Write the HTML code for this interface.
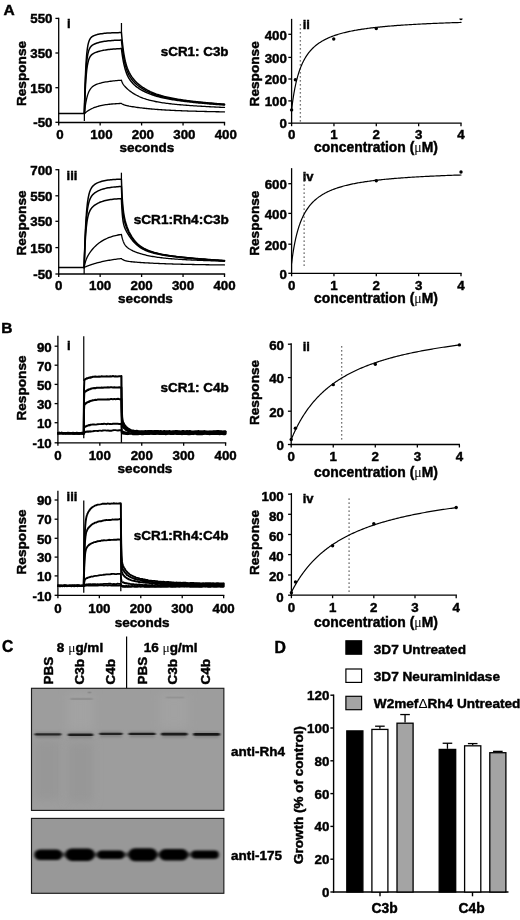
<!DOCTYPE html>
<html lang="en"><head><meta charset="utf-8"><title>Figure</title>
<style>
html,body{margin:0;padding:0;background:#fff;}
body{width:520px;height:920px;overflow:hidden;}
svg{display:block;}
text{font-family:"Liberation Sans",Arial,Helvetica,sans-serif;fill:#000;}
.b{font-weight:bold;stroke:#000;stroke-width:0.45px;}
.dl{font-weight:normal;stroke:none;}
.mu{font-family:"Liberation Serif","DejaVu Serif",serif;font-weight:normal;stroke:none;}
</style></head><body>
<svg width="520" height="920" viewBox="0 0 520 920">
<defs><filter id="bl1" x="-20%" y="-300%" width="140%" height="700%"><feGaussianBlur stdDeviation="1.0 0.75"/></filter><filter id="bl2" x="-20%" y="-200%" width="140%" height="500%"><feGaussianBlur stdDeviation="1.4 1.3"/></filter><filter id="bl3" x="-50%" y="-50%" width="200%" height="200%"><feGaussianBlur stdDeviation="5"/></filter><clipPath id="cb1"><rect x="31.5" y="688.3" width="192.35" height="122.1"/></clipPath><clipPath id="cb2"><rect x="31.5" y="818.4" width="192.35" height="74.9"/></clipPath></defs>
<rect x="0" y="0" width="520" height="920" fill="#fff"/>
<text x="3.6" y="15.4" font-size="15.5" text-anchor="start" class="b">A</text>
<text x="1.3" y="332.9" font-size="15.5" text-anchor="start" class="b">B</text>
<text x="1.9" y="651.5" font-size="15.6" text-anchor="start" class="b">C</text>
<text x="274.5" y="652.6" font-size="15.8" text-anchor="start" class="b">D</text>
<line x1="58.7" y1="17.75" x2="58.7" y2="123.15" stroke="#000" stroke-width="1.3"/>
<line x1="58.05" y1="122.5" x2="225.15" y2="122.5" stroke="#000" stroke-width="1.3"/>
<line x1="55.4" y1="18.4" x2="58.7" y2="18.4" stroke="#000" stroke-width="1.3"/>
<text x="52.5" y="23.45" font-size="13.3" text-anchor="end" class="b">550</text>
<line x1="55.4" y1="53" x2="58.7" y2="53" stroke="#000" stroke-width="1.3"/>
<text x="52.5" y="58.05" font-size="13.3" text-anchor="end" class="b">350</text>
<line x1="55.4" y1="87.7" x2="58.7" y2="87.7" stroke="#000" stroke-width="1.3"/>
<text x="52.5" y="92.75" font-size="13.3" text-anchor="end" class="b">150</text>
<line x1="55.4" y1="122.3" x2="58.7" y2="122.3" stroke="#000" stroke-width="1.3"/>
<text x="52.5" y="127.35" font-size="13.3" text-anchor="end" class="b">-50</text>
<line x1="58.7" y1="122.5" x2="58.7" y2="125.5" stroke="#000" stroke-width="1.3"/>
<text x="60" y="139" font-size="13.3" text-anchor="middle" class="b">0</text>
<line x1="100.15" y1="122.5" x2="100.15" y2="125.5" stroke="#000" stroke-width="1.3"/>
<text x="101.45" y="139" font-size="13.3" text-anchor="middle" class="b">100</text>
<line x1="141.6" y1="122.5" x2="141.6" y2="125.5" stroke="#000" stroke-width="1.3"/>
<text x="142.9" y="139" font-size="13.3" text-anchor="middle" class="b">200</text>
<line x1="183.05" y1="122.5" x2="183.05" y2="125.5" stroke="#000" stroke-width="1.3"/>
<text x="184.35" y="139" font-size="13.3" text-anchor="middle" class="b">300</text>
<line x1="224.5" y1="122.5" x2="224.5" y2="125.5" stroke="#000" stroke-width="1.3"/>
<text x="225.8" y="139" font-size="13.3" text-anchor="middle" class="b">400</text>
<text x="25.6" y="73.5" font-size="13.65" text-anchor="middle" class="b" transform="rotate(-90 25.6 73.5)">Response</text>
<text x="146.8" y="152" font-size="13.5" text-anchor="middle" class="b">seconds</text>
<text x="66.9" y="28" font-size="13" text-anchor="start" class="b">i</text>
<text x="160.8" y="55.8" font-size="13.4" text-anchor="start" class="b">sCR1: C3b</text>
<line x1="84.36" y1="113.61" x2="84.36" y2="121" stroke="#000" stroke-width="1.25"/>
<line x1="121.46" y1="32.59" x2="121.46" y2="23" stroke="#000" stroke-width="1.25"/>
<path d="M58.7 113.61 L84.36 113.61 L84.36 113.61 L84.61 102.28 L84.85 92.67 L85.1 84.51 L85.35 77.57 L85.6 71.68 L85.85 66.67 L86.1 62.4 L86.35 58.76 L86.6 55.65 L86.84 53 L87.09 50.73 L87.34 48.78 L87.59 47.11 L87.84 45.67 L88.09 44.43 L88.34 43.36 L88.59 42.43 L88.83 41.63 L89.08 40.92 L89.33 40.3 L89.58 39.76 L89.83 39.29 L90.08 38.86 L90.33 38.49 L90.58 38.15 L90.82 37.85 L91.07 37.58 L91.32 37.33 L91.57 37.11 L91.82 36.9 L92.07 36.71 L93.31 35.96 L94.55 35.4 L95.8 34.96 L97.04 34.6 L98.28 34.3 L99.53 34.05 L100.77 33.83 L102.02 33.64 L103.26 33.48 L104.5 33.34 L105.75 33.22 L106.99 33.12 L108.23 33.03 L109.48 32.95 L110.72 32.89 L111.96 32.83 L113.21 32.78 L114.45 32.74 L115.69 32.7 L116.94 32.67 L118.18 32.65 L119.42 32.62 L120.67 32.6 L121.46 32.59 L121.46 32.59 L121.7 35.55 L121.95 38.3 L122.2 40.84 L122.45 43.2 L122.7 45.4 L122.95 47.44 L123.2 49.34 L123.44 51.11 L123.69 52.76 L123.94 54.31 L124.19 55.75 L124.44 57.1 L124.69 58.37 L124.94 59.56 L125.19 60.68 L125.43 61.74 L125.68 62.73 L125.93 63.67 L126.18 64.56 L126.43 65.4 L126.68 66.2 L126.93 66.95 L127.18 67.67 L127.42 68.36 L127.67 69.01 L127.92 69.64 L128.17 70.24 L128.42 70.81 L128.67 71.36 L128.92 71.88 L129.16 72.39 L130.41 74.67 L131.65 76.61 L132.9 78.31 L134.14 79.82 L135.38 81.18 L136.63 82.43 L137.87 83.58 L139.11 84.64 L140.36 85.63 L141.6 86.55 L142.84 87.42 L144.09 88.22 L145.33 88.98 L146.57 89.7 L147.82 90.37 L149.06 91 L150.3 91.6 L151.55 92.16 L152.79 92.69 L154.03 93.19 L155.28 93.67 L156.52 94.12 L157.77 94.54 L159.01 94.95 L160.25 95.33 L161.5 95.7 L162.74 96.05 L163.98 96.38 L165.23 96.7 L166.47 97 L167.71 97.29 L168.96 97.56 L170.2 97.83 L171.44 98.08 L172.69 98.33 L173.93 98.56 L175.17 98.79 L176.42 99 L177.66 99.21 L178.9 99.41 L180.15 99.61 L181.39 99.8 L182.64 99.98 L183.88 100.16 L185.12 100.33 L186.37 100.5 L187.61 100.66 L188.85 100.82 L190.1 100.97 L191.34 101.12 L192.58 101.27 L193.83 101.41 L195.07 101.55 L196.31 101.68 L197.56 101.81 L198.8 101.94 L200.04 102.07 L201.29 102.2 L202.53 102.32 L203.77 102.44 L205.02 102.56 L206.26 102.67 L207.51 102.79 L208.75 102.9 L209.99 103.01 L211.24 103.11 L212.48 103.22 L213.72 103.33 L214.97 103.43 L216.21 103.53 L217.45 103.63 L218.7 103.73 L219.94 103.83 L221.18 103.92 L222.43 104.02 L223.67 104.11 L224.5 104.17" fill="none" stroke="#000" stroke-width="1.5" stroke-linejoin="round" stroke-linecap="round"/>
<path d="M84.36 113.61 L84.36 113.61 L84.61 103.96 L84.85 95.72 L85.1 88.68 L85.35 82.66 L85.6 77.51 L85.85 73.1 L86.1 69.32 L86.35 66.08 L86.6 63.29 L86.84 60.9 L87.09 58.83 L87.34 57.05 L87.59 55.51 L87.84 54.17 L88.09 53.01 L88.34 52 L88.59 51.12 L88.83 50.35 L89.08 49.67 L89.33 49.07 L89.58 48.54 L89.83 48.07 L90.08 47.65 L90.33 47.27 L90.58 46.93 L90.82 46.63 L91.07 46.35 L91.32 46.09 L91.57 45.85 L91.82 45.64 L92.07 45.44 L93.31 44.61 L94.55 43.98 L95.8 43.47 L97.04 43.03 L98.28 42.66 L99.53 42.33 L100.77 42.03 L102.02 41.78 L103.26 41.55 L104.5 41.35 L105.75 41.17 L106.99 41.01 L108.23 40.87 L109.48 40.74 L110.72 40.63 L111.96 40.53 L113.21 40.44 L114.45 40.37 L115.69 40.3 L116.94 40.24 L118.18 40.18 L119.42 40.14 L120.67 40.09 L121.46 40.07 L121.46 40.07 L121.7 42.6 L121.95 44.96 L122.2 47.15 L122.45 49.2 L122.7 51.12 L122.95 52.9 L123.2 54.57 L123.44 56.14 L123.69 57.6 L123.94 58.97 L124.19 60.26 L124.44 61.47 L124.69 62.6 L124.94 63.67 L125.19 64.68 L125.43 65.63 L125.68 66.53 L125.93 67.38 L126.18 68.19 L126.43 68.95 L126.68 69.67 L126.93 70.36 L127.18 71.02 L127.42 71.65 L127.67 72.24 L127.92 72.81 L128.17 73.36 L128.42 73.88 L128.67 74.38 L128.92 74.87 L129.16 75.33 L130.41 77.41 L131.65 79.19 L132.9 80.73 L134.14 82.11 L135.38 83.35 L136.63 84.48 L137.87 85.52 L139.11 86.48 L140.36 87.37 L141.6 88.21 L142.84 88.99 L144.09 89.72 L145.33 90.41 L146.57 91.06 L147.82 91.66 L149.06 92.24 L150.3 92.78 L151.55 93.29 L152.79 93.77 L154.03 94.23 L155.28 94.66 L156.52 95.07 L157.77 95.46 L159.01 95.83 L160.25 96.18 L161.5 96.52 L162.74 96.84 L163.98 97.14 L165.23 97.44 L166.47 97.71 L167.71 97.98 L168.96 98.24 L170.2 98.48 L171.44 98.72 L172.69 98.95 L173.93 99.16 L175.17 99.38 L176.42 99.58 L177.66 99.78 L178.9 99.97 L180.15 100.15 L181.39 100.33 L182.64 100.5 L183.88 100.67 L185.12 100.83 L186.37 100.99 L187.61 101.14 L188.85 101.29 L190.1 101.44 L191.34 101.58 L192.58 101.72 L193.83 101.86 L195.07 102 L196.31 102.13 L197.56 102.25 L198.8 102.38 L200.04 102.5 L201.29 102.62 L202.53 102.74 L203.77 102.86 L205.02 102.97 L206.26 103.09 L207.51 103.2 L208.75 103.31 L209.99 103.41 L211.24 103.52 L212.48 103.62 L213.72 103.73 L214.97 103.83 L216.21 103.93 L217.45 104.03 L218.7 104.12 L219.94 104.22 L221.18 104.31 L222.43 104.41 L223.67 104.5 L224.5 104.56" fill="none" stroke="#000" stroke-width="1.5" stroke-linejoin="round" stroke-linecap="round"/>
<path d="M84.36 113.61 L84.36 113.61 L84.61 105.8 L84.85 99.06 L85.1 93.23 L85.35 88.18 L85.6 83.81 L85.85 80.02 L86.1 76.74 L86.35 73.89 L86.6 71.41 L86.84 69.26 L87.09 67.38 L87.34 65.74 L87.59 64.31 L87.84 63.06 L88.09 61.96 L88.34 60.99 L88.59 60.14 L88.83 59.39 L89.08 58.72 L89.33 58.13 L89.58 57.6 L89.83 57.12 L90.08 56.7 L90.33 56.31 L90.58 55.97 L90.82 55.65 L91.07 55.37 L91.32 55.1 L91.57 54.86 L91.82 54.64 L92.07 54.43 L93.31 53.58 L94.55 52.93 L95.8 52.4 L97.04 51.94 L98.28 51.55 L99.53 51.2 L100.77 50.89 L102.02 50.61 L103.26 50.36 L104.5 50.13 L105.75 49.93 L106.99 49.75 L108.23 49.59 L109.48 49.44 L110.72 49.3 L111.96 49.18 L113.21 49.08 L114.45 48.98 L115.69 48.89 L116.94 48.81 L118.18 48.74 L119.42 48.68 L120.67 48.62 L121.46 48.59 L121.46 48.59 L121.7 50.63 L121.95 52.55 L122.2 54.35 L122.45 56.04 L122.7 57.63 L122.95 59.13 L123.2 60.54 L123.44 61.86 L123.69 63.11 L123.94 64.28 L124.19 65.39 L124.44 66.43 L124.69 67.42 L124.94 68.35 L125.19 69.23 L125.43 70.07 L125.68 70.86 L125.93 71.61 L126.18 72.32 L126.43 72.99 L126.68 73.64 L126.93 74.25 L127.18 74.83 L127.42 75.39 L127.67 75.92 L127.92 76.43 L128.17 76.92 L128.42 77.38 L128.67 77.83 L128.92 78.26 L129.16 78.68 L130.41 80.54 L131.65 82.12 L132.9 83.5 L134.14 84.71 L135.38 85.81 L136.63 86.81 L137.87 87.73 L139.11 88.57 L140.36 89.36 L141.6 90.1 L142.84 90.79 L144.09 91.43 L145.33 92.04 L146.57 92.6 L147.82 93.14 L149.06 93.65 L150.3 94.13 L151.55 94.58 L152.79 95 L154.03 95.41 L155.28 95.79 L156.52 96.16 L157.77 96.51 L159.01 96.84 L160.25 97.15 L161.5 97.45 L162.74 97.74 L163.98 98.02 L165.23 98.28 L166.47 98.53 L167.71 98.77 L168.96 99.01 L170.2 99.23 L171.44 99.45 L172.69 99.65 L173.93 99.85 L175.17 100.05 L176.42 100.24 L177.66 100.42 L178.9 100.59 L180.15 100.76 L181.39 100.93 L182.64 101.09 L183.88 101.25 L185.12 101.4 L186.37 101.55 L187.61 101.7 L188.85 101.84 L190.1 101.98 L191.34 102.12 L192.58 102.25 L193.83 102.38 L195.07 102.51 L196.31 102.63 L197.56 102.76 L198.8 102.88 L200.04 103 L201.29 103.11 L202.53 103.23 L203.77 103.34 L205.02 103.45 L206.26 103.56 L207.51 103.67 L208.75 103.77 L209.99 103.88 L211.24 103.98 L212.48 104.08 L213.72 104.18 L214.97 104.28 L216.21 104.38 L217.45 104.48 L218.7 104.57 L219.94 104.67 L221.18 104.76 L222.43 104.85 L223.67 104.94 L224.5 105" fill="none" stroke="#000" stroke-width="1.5" stroke-linejoin="round" stroke-linecap="round"/>
<path d="M84.36 113.61 L84.36 113.61 L84.61 111.38 L84.85 109.33 L85.1 107.44 L85.35 105.71 L85.6 104.11 L85.85 102.65 L86.1 101.29 L86.35 100.05 L86.6 98.9 L86.84 97.84 L87.09 96.86 L87.34 95.96 L87.59 95.13 L87.84 94.36 L88.09 93.64 L88.34 92.98 L88.59 92.37 L88.83 91.8 L89.08 91.27 L89.33 90.78 L89.58 90.32 L89.83 89.89 L90.08 89.5 L90.33 89.13 L90.58 88.78 L90.82 88.45 L91.07 88.15 L91.32 87.86 L91.57 87.6 L91.82 87.34 L92.07 87.1 L93.31 86.1 L94.55 85.32 L95.8 84.7 L97.04 84.18 L98.28 83.75 L99.53 83.37 L100.77 83.03 L102.02 82.73 L103.26 82.46 L104.5 82.21 L105.75 81.98 L106.99 81.77 L108.23 81.58 L109.48 81.4 L110.72 81.24 L111.96 81.08 L113.21 80.94 L114.45 80.81 L115.69 80.69 L116.94 80.57 L118.18 80.47 L119.42 80.37 L120.67 80.28 L121.46 80.23 L121.46 80.23 L121.7 81.04 L121.95 81.74 L122.2 82.36 L122.45 82.9 L122.7 83.39 L122.95 83.83 L123.2 84.23 L123.44 84.61 L123.69 84.96 L123.94 85.29 L124.19 85.61 L124.44 85.91 L124.69 86.2 L124.94 86.48 L125.19 86.76 L125.43 87.02 L125.68 87.28 L125.93 87.53 L126.18 87.78 L126.43 88.02 L126.68 88.26 L126.93 88.49 L127.18 88.72 L127.42 88.94 L127.67 89.16 L127.92 89.38 L128.17 89.6 L128.42 89.81 L128.67 90.01 L128.92 90.22 L129.16 90.42 L130.41 91.38 L131.65 92.28 L132.9 93.11 L134.14 93.89 L135.38 94.61 L136.63 95.29 L137.87 95.91 L139.11 96.5 L140.36 97.05 L141.6 97.56 L142.84 98.04 L144.09 98.49 L145.33 98.91 L146.57 99.31 L147.82 99.68 L149.06 100.03 L150.3 100.36 L151.55 100.67 L152.79 100.96 L154.03 101.23 L155.28 101.49 L156.52 101.74 L157.77 101.97 L159.01 102.19 L160.25 102.4 L161.5 102.6 L162.74 102.79 L163.98 102.98 L165.23 103.15 L166.47 103.32 L167.71 103.47 L168.96 103.63 L170.2 103.77 L171.44 103.91 L172.69 104.05 L173.93 104.18 L175.17 104.3 L176.42 104.42 L177.66 104.54 L178.9 104.65 L180.15 104.76 L181.39 104.87 L182.64 104.97 L183.88 105.07 L185.12 105.17 L186.37 105.27 L187.61 105.36 L188.85 105.45 L190.1 105.54 L191.34 105.63 L192.58 105.71 L193.83 105.79 L195.07 105.88 L196.31 105.96 L197.56 106.03 L198.8 106.11 L200.04 106.19 L201.29 106.26 L202.53 106.33 L203.77 106.4 L205.02 106.47 L206.26 106.54 L207.51 106.61 L208.75 106.68 L209.99 106.74 L211.24 106.81 L212.48 106.87 L213.72 106.94 L214.97 107 L216.21 107.06 L217.45 107.12 L218.7 107.18 L219.94 107.24 L221.18 107.3 L222.43 107.36 L223.67 107.42 L224.5 107.46" fill="none" stroke="#000" stroke-width="1.3" stroke-linejoin="round" stroke-linecap="round"/>
<path d="M84.36 113.61 L84.36 113.61 L84.61 113.39 L84.85 113.17 L85.1 112.96 L85.35 112.75 L85.6 112.55 L85.85 112.35 L86.1 112.15 L86.35 111.96 L86.6 111.78 L86.84 111.59 L87.09 111.41 L87.34 111.24 L87.59 111.07 L87.84 110.9 L88.09 110.73 L88.34 110.57 L88.59 110.41 L88.83 110.26 L89.08 110.11 L89.33 109.96 L89.58 109.82 L89.83 109.67 L90.08 109.53 L90.33 109.4 L90.58 109.26 L90.82 109.13 L91.07 109.01 L91.32 108.88 L91.57 108.76 L91.82 108.64 L92.07 108.52 L93.31 107.97 L94.55 107.47 L95.8 107.02 L97.04 106.62 L98.28 106.25 L99.53 105.93 L100.77 105.63 L102.02 105.37 L103.26 105.13 L104.5 104.91 L105.75 104.72 L106.99 104.55 L108.23 104.39 L109.48 104.25 L110.72 104.12 L111.96 104.01 L113.21 103.9 L114.45 103.81 L115.69 103.73 L116.94 103.65 L118.18 103.58 L119.42 103.52 L120.67 103.47 L121.46 103.44 L121.46 103.44 L121.7 103.62 L121.95 103.79 L122.2 103.95 L122.45 104.09 L122.7 104.22 L122.95 104.35 L123.2 104.46 L123.44 104.57 L123.69 104.67 L123.94 104.77 L124.19 104.86 L124.44 104.95 L124.69 105.03 L124.94 105.11 L125.19 105.18 L125.43 105.26 L125.68 105.32 L125.93 105.39 L126.18 105.45 L126.43 105.52 L126.68 105.58 L126.93 105.64 L127.18 105.69 L127.42 105.75 L127.67 105.8 L127.92 105.86 L128.17 105.91 L128.42 105.96 L128.67 106.01 L128.92 106.06 L129.16 106.11 L130.41 106.34 L131.65 106.55 L132.9 106.76 L134.14 106.96 L135.38 107.14 L136.63 107.32 L137.87 107.49 L139.11 107.66 L140.36 107.81 L141.6 107.97 L142.84 108.11 L144.09 108.25 L145.33 108.39 L146.57 108.52 L147.82 108.64 L149.06 108.76 L150.3 108.88 L151.55 108.99 L152.79 109.09 L154.03 109.2 L155.28 109.3 L156.52 109.39 L157.77 109.49 L159.01 109.58 L160.25 109.66 L161.5 109.74 L162.74 109.82 L163.98 109.9 L165.23 109.98 L166.47 110.05 L167.71 110.12 L168.96 110.19 L170.2 110.25 L171.44 110.32 L172.69 110.38 L173.93 110.44 L175.17 110.49 L176.42 110.55 L177.66 110.6 L178.9 110.66 L180.15 110.71 L181.39 110.76 L182.64 110.81 L183.88 110.85 L185.12 110.9 L186.37 110.94 L187.61 110.99 L188.85 111.03 L190.1 111.07 L191.34 111.11 L192.58 111.15 L193.83 111.18 L195.07 111.22 L196.31 111.26 L197.56 111.29 L198.8 111.32 L200.04 111.36 L201.29 111.39 L202.53 111.42 L203.77 111.45 L205.02 111.48 L206.26 111.51 L207.51 111.54 L208.75 111.57 L209.99 111.6 L211.24 111.62 L212.48 111.65 L213.72 111.68 L214.97 111.7 L216.21 111.73 L217.45 111.75 L218.7 111.77 L219.94 111.8 L221.18 111.82 L222.43 111.84 L223.67 111.87 L224.5 111.88" fill="none" stroke="#000" stroke-width="1.3" stroke-linejoin="round" stroke-linecap="round"/>
<line x1="58.7" y1="169.05" x2="58.7" y2="274.65" stroke="#000" stroke-width="1.3"/>
<line x1="58.05" y1="274" x2="225.15" y2="274" stroke="#000" stroke-width="1.3"/>
<line x1="55.4" y1="169.7" x2="58.7" y2="169.7" stroke="#000" stroke-width="1.3"/>
<text x="52.5" y="174.85" font-size="13.3" text-anchor="end" class="b">700</text>
<line x1="55.4" y1="195.8" x2="58.7" y2="195.8" stroke="#000" stroke-width="1.3"/>
<text x="52.5" y="200.95" font-size="13.3" text-anchor="end" class="b">550</text>
<line x1="55.4" y1="221.3" x2="58.7" y2="221.3" stroke="#000" stroke-width="1.3"/>
<text x="52.5" y="226.45" font-size="13.3" text-anchor="end" class="b">350</text>
<line x1="55.4" y1="247.6" x2="58.7" y2="247.6" stroke="#000" stroke-width="1.3"/>
<text x="52.5" y="252.75" font-size="13.3" text-anchor="end" class="b">150</text>
<line x1="55.4" y1="274" x2="58.7" y2="274" stroke="#000" stroke-width="1.3"/>
<text x="52.5" y="279.15" font-size="13.3" text-anchor="end" class="b">-50</text>
<line x1="58.7" y1="274" x2="58.7" y2="277" stroke="#000" stroke-width="1.3"/>
<text x="58.7" y="290" font-size="13.3" text-anchor="middle" class="b">0</text>
<line x1="100.15" y1="274" x2="100.15" y2="277" stroke="#000" stroke-width="1.3"/>
<text x="100.15" y="290" font-size="13.3" text-anchor="middle" class="b">100</text>
<line x1="141.6" y1="274" x2="141.6" y2="277" stroke="#000" stroke-width="1.3"/>
<text x="141.6" y="290" font-size="13.3" text-anchor="middle" class="b">200</text>
<line x1="183.05" y1="274" x2="183.05" y2="277" stroke="#000" stroke-width="1.3"/>
<text x="183.05" y="290" font-size="13.3" text-anchor="middle" class="b">300</text>
<line x1="224.5" y1="274" x2="224.5" y2="277" stroke="#000" stroke-width="1.3"/>
<text x="224.5" y="290" font-size="13.3" text-anchor="middle" class="b">400</text>
<text x="25.6" y="223" font-size="13.65" text-anchor="middle" class="b" transform="rotate(-90 25.6 223)">Response</text>
<text x="145.5" y="303" font-size="13.5" text-anchor="middle" class="b">seconds</text>
<text x="66.6" y="179.5" font-size="13" text-anchor="start" class="b">iii</text>
<text x="133.7" y="224.3" font-size="13.6" text-anchor="start" class="b">sCR1:Rh4:C3b</text>
<line x1="84.15" y1="267.62" x2="84.15" y2="274" stroke="#000" stroke-width="1.25"/>
<line x1="121.41" y1="179.13" x2="121.41" y2="172.7" stroke="#000" stroke-width="1.25"/>
<path d="M58.7 267.62 L84.15 267.62 L84.15 267.62 L84.4 258.28 L84.65 250.05 L84.9 242.79 L85.15 236.39 L85.39 230.74 L85.64 225.76 L85.89 221.34 L86.14 217.44 L86.39 213.99 L86.64 210.92 L86.89 208.2 L87.13 205.79 L87.38 203.64 L87.63 201.72 L87.88 200.01 L88.13 198.49 L88.38 197.12 L88.63 195.89 L88.88 194.79 L89.12 193.79 L89.37 192.9 L89.62 192.09 L89.87 191.35 L90.12 190.68 L90.37 190.07 L90.62 189.52 L90.87 189.01 L91.11 188.54 L91.36 188.11 L91.61 187.71 L91.86 187.34 L93.1 185.83 L94.35 184.73 L95.59 183.87 L96.83 183.17 L98.08 182.59 L99.32 182.1 L100.56 181.68 L101.81 181.32 L103.05 181 L104.29 180.73 L105.54 180.49 L106.78 180.28 L108.03 180.09 L109.27 179.93 L110.51 179.79 L111.76 179.67 L113 179.57 L114.24 179.47 L115.49 179.39 L116.73 179.32 L117.97 179.26 L119.22 179.21 L120.46 179.16 L121.41 179.13 L121.41 179.13 L121.66 186.07 L121.91 191.76 L122.16 196.46 L122.41 200.38 L122.66 203.67 L122.91 206.47 L123.15 208.87 L123.4 210.96 L123.65 212.78 L123.9 214.4 L124.15 215.85 L124.4 217.17 L124.65 218.37 L124.9 219.48 L125.14 220.51 L125.39 221.47 L125.64 222.38 L125.89 223.24 L126.14 224.06 L126.39 224.84 L126.64 225.58 L126.89 226.3 L127.13 226.99 L127.38 227.66 L127.63 228.3 L127.88 228.92 L128.13 229.53 L128.38 230.11 L128.63 230.68 L128.87 231.23 L129.12 231.76 L130.37 234.23 L131.61 236.39 L132.85 238.29 L134.1 239.96 L135.34 241.45 L136.58 242.78 L137.83 243.97 L139.07 245.04 L140.32 246 L141.56 246.87 L142.8 247.65 L144.05 248.37 L145.29 249.02 L146.53 249.62 L147.78 250.17 L149.02 250.68 L150.26 251.14 L151.51 251.58 L152.75 251.98 L153.99 252.35 L155.24 252.7 L156.48 253.03 L157.72 253.34 L158.97 253.63 L160.21 253.9 L161.45 254.16 L162.7 254.4 L163.94 254.63 L165.19 254.86 L166.43 255.07 L167.67 255.27 L168.92 255.46 L170.16 255.65 L171.4 255.83 L172.65 256 L173.89 256.16 L175.13 256.32 L176.38 256.48 L177.62 256.63 L178.86 256.78 L180.11 256.92 L181.35 257.06 L182.59 257.19 L183.84 257.32 L185.08 257.45 L186.32 257.57 L187.57 257.7 L188.81 257.82 L190.06 257.93 L191.3 258.05 L192.54 258.16 L193.79 258.27 L195.03 258.38 L196.27 258.49 L197.52 258.6 L198.76 258.7 L200 258.8 L201.25 258.9 L202.49 259 L203.73 259.1 L204.98 259.19 L206.22 259.29 L207.46 259.38 L208.71 259.47 L209.95 259.57 L211.19 259.66 L212.44 259.74 L213.68 259.83 L214.93 259.92 L216.17 260 L217.41 260.09 L218.66 260.17 L219.9 260.25 L221.14 260.33 L222.39 260.41 L223.63 260.49 L224.5 260.55" fill="none" stroke="#000" stroke-width="1.5" stroke-linejoin="round" stroke-linecap="round"/>
<path d="M84.15 267.62 L84.15 267.62 L84.4 259.08 L84.65 251.58 L84.9 245.01 L85.15 239.24 L85.39 234.16 L85.64 229.71 L85.89 225.78 L86.14 222.32 L86.39 219.26 L86.64 216.56 L86.89 214.17 L87.13 212.06 L87.38 210.18 L87.63 208.5 L87.88 207.01 L88.13 205.68 L88.38 204.48 L88.63 203.41 L88.88 202.45 L89.12 201.57 L89.37 200.79 L89.62 200.07 L89.87 199.42 L90.12 198.82 L90.37 198.28 L90.62 197.78 L90.87 197.31 L91.11 196.88 L91.36 196.49 L91.61 196.12 L91.86 195.77 L93.1 194.33 L94.35 193.21 L95.59 192.31 L96.83 191.55 L98.08 190.9 L99.32 190.33 L100.56 189.83 L101.81 189.39 L103.05 189.01 L104.29 188.66 L105.54 188.36 L106.78 188.09 L108.03 187.85 L109.27 187.64 L110.51 187.45 L111.76 187.28 L113 187.13 L114.24 187 L115.49 186.89 L116.73 186.78 L117.97 186.69 L119.22 186.61 L120.46 186.54 L121.41 186.49 L121.41 186.49 L121.66 192.97 L121.91 198.24 L122.16 202.55 L122.41 206.11 L122.66 209.06 L122.91 211.55 L123.15 213.66 L123.4 215.47 L123.65 217.04 L123.9 218.43 L124.15 219.66 L124.4 220.77 L124.65 221.78 L124.9 222.72 L125.14 223.58 L125.39 224.39 L125.64 225.16 L125.89 225.88 L126.14 226.58 L126.39 227.24 L126.64 227.88 L126.89 228.5 L127.13 229.09 L127.38 229.67 L127.63 230.23 L127.88 230.78 L128.13 231.31 L128.38 231.83 L128.63 232.33 L128.87 232.82 L129.12 233.3 L130.37 235.53 L131.61 237.51 L132.85 239.27 L134.1 240.84 L135.34 242.25 L136.58 243.51 L137.83 244.64 L139.07 245.65 L140.32 246.57 L141.56 247.4 L142.8 248.16 L144.05 248.84 L145.29 249.47 L146.53 250.04 L147.78 250.57 L149.02 251.05 L150.26 251.5 L151.51 251.92 L152.75 252.3 L153.99 252.66 L155.24 253 L156.48 253.31 L157.72 253.61 L158.97 253.89 L160.21 254.15 L161.45 254.4 L162.7 254.64 L163.94 254.86 L165.19 255.08 L166.43 255.28 L167.67 255.48 L168.92 255.67 L170.16 255.85 L171.4 256.02 L172.65 256.19 L173.89 256.35 L175.13 256.51 L176.38 256.66 L177.62 256.81 L178.86 256.95 L180.11 257.09 L181.35 257.23 L182.59 257.36 L183.84 257.49 L185.08 257.62 L186.32 257.74 L187.57 257.86 L188.81 257.98 L190.06 258.1 L191.3 258.21 L192.54 258.32 L193.79 258.43 L195.03 258.54 L196.27 258.65 L197.52 258.75 L198.76 258.85 L200 258.96 L201.25 259.06 L202.49 259.15 L203.73 259.25 L204.98 259.35 L206.22 259.44 L207.46 259.53 L208.71 259.63 L209.95 259.72 L211.19 259.81 L212.44 259.89 L213.68 259.98 L214.93 260.07 L216.17 260.15 L217.41 260.24 L218.66 260.32 L219.9 260.4 L221.14 260.48 L222.39 260.56 L223.63 260.64 L224.5 260.7" fill="none" stroke="#000" stroke-width="1.5" stroke-linejoin="round" stroke-linecap="round"/>
<path d="M84.15 267.62 L84.15 267.62 L84.4 260.19 L84.65 253.73 L84.9 248.12 L85.15 243.24 L85.39 238.99 L85.64 235.29 L85.89 232.05 L86.14 229.22 L86.39 226.73 L86.64 224.55 L86.89 222.63 L87.13 220.94 L87.38 219.44 L87.63 218.11 L87.88 216.92 L88.13 215.87 L88.38 214.92 L88.63 214.07 L88.88 213.3 L89.12 212.6 L89.37 211.97 L89.62 211.39 L89.87 210.86 L90.12 210.37 L90.37 209.92 L90.62 209.5 L90.87 209.12 L91.11 208.75 L91.36 208.41 L91.61 208.09 L91.86 207.79 L93.1 206.49 L94.35 205.44 L95.59 204.56 L96.83 203.81 L98.08 203.14 L99.32 202.56 L100.56 202.05 L101.81 201.6 L103.05 201.2 L104.29 200.84 L105.54 200.53 L106.78 200.25 L108.03 200 L109.27 199.78 L110.51 199.58 L111.76 199.41 L113 199.26 L114.24 199.12 L115.49 199 L116.73 198.89 L117.97 198.8 L119.22 198.71 L120.46 198.64 L121.41 198.59 L121.41 198.59 L121.66 204.32 L121.91 208.9 L122.16 212.56 L122.41 215.52 L122.66 217.92 L122.91 219.89 L123.15 221.52 L123.4 222.88 L123.65 224.04 L123.9 225.04 L124.15 225.92 L124.4 226.69 L124.65 227.39 L124.9 228.04 L125.14 228.63 L125.39 229.19 L125.64 229.72 L125.89 230.23 L126.14 230.72 L126.39 231.2 L126.64 231.66 L126.89 232.11 L127.13 232.55 L127.38 232.98 L127.63 233.41 L127.88 233.82 L128.13 234.24 L128.38 234.64 L128.63 235.04 L128.87 235.43 L129.12 235.82 L130.37 237.66 L131.61 239.35 L132.85 240.89 L134.1 242.29 L135.34 243.56 L136.58 244.7 L137.83 245.73 L139.07 246.67 L140.32 247.51 L141.56 248.28 L142.8 248.98 L144.05 249.62 L145.29 250.2 L146.53 250.73 L147.78 251.22 L149.02 251.67 L150.26 252.09 L151.51 252.48 L152.75 252.84 L153.99 253.17 L155.24 253.49 L156.48 253.78 L157.72 254.06 L158.97 254.32 L160.21 254.57 L161.45 254.81 L162.7 255.03 L163.94 255.24 L165.19 255.45 L166.43 255.64 L167.67 255.83 L168.92 256.01 L170.16 256.18 L171.4 256.35 L172.65 256.51 L173.89 256.66 L175.13 256.82 L176.38 256.96 L177.62 257.11 L178.86 257.24 L180.11 257.38 L181.35 257.51 L182.59 257.64 L183.84 257.77 L185.08 257.89 L186.32 258.01 L187.57 258.13 L188.81 258.25 L190.06 258.36 L191.3 258.47 L192.54 258.58 L193.79 258.69 L195.03 258.8 L196.27 258.9 L197.52 259.01 L198.76 259.11 L200 259.21 L201.25 259.31 L202.49 259.41 L203.73 259.5 L204.98 259.6 L206.22 259.69 L207.46 259.78 L208.71 259.87 L209.95 259.96 L211.19 260.05 L212.44 260.14 L213.68 260.23 L214.93 260.31 L216.17 260.4 L217.41 260.48 L218.66 260.57 L219.9 260.65 L221.14 260.73 L222.39 260.81 L223.63 260.89 L224.5 260.94" fill="none" stroke="#000" stroke-width="1.5" stroke-linejoin="round" stroke-linecap="round"/>
<path d="M84.15 267.62 L84.15 267.62 L84.4 266.24 L84.65 265 L84.9 263.9 L85.15 262.9 L85.39 262 L85.64 261.18 L85.89 260.42 L86.14 259.72 L86.39 259.07 L86.64 258.46 L86.89 257.88 L87.13 257.34 L87.38 256.83 L87.63 256.33 L87.88 255.86 L88.13 255.41 L88.38 254.98 L88.63 254.55 L88.88 254.15 L89.12 253.75 L89.37 253.36 L89.62 252.99 L89.87 252.62 L90.12 252.26 L90.37 251.91 L90.62 251.57 L90.87 251.24 L91.11 250.91 L91.36 250.59 L91.61 250.27 L91.86 249.96 L93.1 248.5 L94.35 247.16 L95.59 245.93 L96.83 244.8 L98.08 243.76 L99.32 242.8 L100.56 241.92 L101.81 241.12 L103.05 240.37 L104.29 239.69 L105.54 239.06 L106.78 238.49 L108.03 237.96 L109.27 237.47 L110.51 237.02 L111.76 236.61 L113 236.23 L114.24 235.88 L115.49 235.56 L116.73 235.27 L117.97 235 L119.22 234.75 L120.46 234.52 L121.41 234.36 L121.41 234.36 L121.66 235.64 L121.91 236.79 L122.16 237.84 L122.41 238.78 L122.66 239.64 L122.91 240.42 L123.15 241.13 L123.4 241.78 L123.65 242.37 L123.9 242.91 L124.15 243.41 L124.4 243.87 L124.65 244.3 L124.9 244.69 L125.14 245.06 L125.39 245.4 L125.64 245.72 L125.89 246.02 L126.14 246.3 L126.39 246.57 L126.64 246.82 L126.89 247.06 L127.13 247.28 L127.38 247.5 L127.63 247.7 L127.88 247.9 L128.13 248.09 L128.38 248.27 L128.63 248.45 L128.87 248.62 L129.12 248.78 L130.37 249.53 L131.61 250.2 L132.85 250.8 L134.1 251.35 L135.34 251.87 L136.58 252.35 L137.83 252.8 L139.07 253.22 L140.32 253.61 L141.56 253.99 L142.8 254.34 L144.05 254.67 L145.29 254.98 L146.53 255.27 L147.78 255.55 L149.02 255.81 L150.26 256.06 L151.51 256.29 L152.75 256.51 L153.99 256.72 L155.24 256.92 L156.48 257.11 L157.72 257.29 L158.97 257.45 L160.21 257.62 L161.45 257.77 L162.7 257.91 L163.94 258.05 L165.19 258.18 L166.43 258.31 L167.67 258.43 L168.92 258.54 L170.16 258.65 L171.4 258.76 L172.65 258.86 L173.89 258.95 L175.13 259.04 L176.38 259.13 L177.62 259.22 L178.86 259.3 L180.11 259.38 L181.35 259.45 L182.59 259.53 L183.84 259.6 L185.08 259.67 L186.32 259.73 L187.57 259.8 L188.81 259.86 L190.06 259.92 L191.3 259.98 L192.54 260.04 L193.79 260.09 L195.03 260.15 L196.27 260.2 L197.52 260.25 L198.76 260.3 L200 260.35 L201.25 260.4 L202.49 260.45 L203.73 260.49 L204.98 260.54 L206.22 260.58 L207.46 260.63 L208.71 260.67 L209.95 260.71 L211.19 260.75 L212.44 260.79 L213.68 260.83 L214.93 260.87 L216.17 260.91 L217.41 260.95 L218.66 260.99 L219.9 261.03 L221.14 261.06 L222.39 261.1 L223.63 261.14 L224.5 261.16" fill="none" stroke="#000" stroke-width="1.3" stroke-linejoin="round" stroke-linecap="round"/>
<path d="M84.15 267.36 L84.15 267.36 L84.4 267.26 L84.65 267.15 L84.9 267.04 L85.15 266.94 L85.39 266.84 L85.64 266.74 L85.89 266.64 L86.14 266.54 L86.39 266.44 L86.64 266.34 L86.89 266.24 L87.13 266.14 L87.38 266.05 L87.63 265.95 L87.88 265.86 L88.13 265.77 L88.38 265.67 L88.63 265.58 L88.88 265.49 L89.12 265.4 L89.37 265.31 L89.62 265.22 L89.87 265.14 L90.12 265.05 L90.37 264.96 L90.62 264.88 L90.87 264.79 L91.11 264.71 L91.36 264.63 L91.61 264.55 L91.86 264.46 L93.1 264.07 L94.35 263.69 L95.59 263.33 L96.83 262.98 L98.08 262.65 L99.32 262.33 L100.56 262.03 L101.81 261.74 L103.05 261.47 L104.29 261.2 L105.54 260.95 L106.78 260.71 L108.03 260.48 L109.27 260.26 L110.51 260.05 L111.76 259.84 L113 259.65 L114.24 259.47 L115.49 259.29 L116.73 259.12 L117.97 258.96 L119.22 258.81 L120.46 258.66 L121.41 258.55 L121.41 258.55 L121.66 258.77 L121.91 258.98 L122.16 259.17 L122.41 259.35 L122.66 259.51 L122.91 259.66 L123.15 259.8 L123.4 259.93 L123.65 260.06 L123.9 260.17 L124.15 260.27 L124.4 260.37 L124.65 260.46 L124.9 260.55 L125.14 260.63 L125.39 260.71 L125.64 260.78 L125.89 260.85 L126.14 260.91 L126.39 260.97 L126.64 261.03 L126.89 261.08 L127.13 261.13 L127.38 261.18 L127.63 261.23 L127.88 261.27 L128.13 261.31 L128.38 261.35 L128.63 261.39 L128.87 261.43 L129.12 261.47 L130.37 261.63 L131.61 261.77 L132.85 261.89 L134.1 262.01 L135.34 262.11 L136.58 262.21 L137.83 262.31 L139.07 262.4 L140.32 262.49 L141.56 262.57 L142.8 262.65 L144.05 262.73 L145.29 262.81 L146.53 262.88 L147.78 262.95 L149.02 263.02 L150.26 263.09 L151.51 263.15 L152.75 263.22 L153.99 263.28 L155.24 263.33 L156.48 263.39 L157.72 263.45 L158.97 263.5 L160.21 263.55 L161.45 263.6 L162.7 263.65 L163.94 263.7 L165.19 263.75 L166.43 263.79 L167.67 263.83 L168.92 263.88 L170.16 263.92 L171.4 263.96 L172.65 263.99 L173.89 264.03 L175.13 264.07 L176.38 264.1 L177.62 264.14 L178.86 264.17 L180.11 264.21 L181.35 264.24 L182.59 264.27 L183.84 264.3 L185.08 264.33 L186.32 264.36 L187.57 264.38 L188.81 264.41 L190.06 264.44 L191.3 264.46 L192.54 264.49 L193.79 264.51 L195.03 264.54 L196.27 264.56 L197.52 264.58 L198.76 264.6 L200 264.62 L201.25 264.65 L202.49 264.67 L203.73 264.69 L204.98 264.71 L206.22 264.73 L207.46 264.74 L208.71 264.76 L209.95 264.78 L211.19 264.8 L212.44 264.82 L213.68 264.83 L214.93 264.85 L216.17 264.86 L217.41 264.88 L218.66 264.9 L219.9 264.91 L221.14 264.93 L222.39 264.94 L223.63 264.96 L224.5 264.96" fill="none" stroke="#000" stroke-width="1.3" stroke-linejoin="round" stroke-linecap="round"/>
<line x1="291.6" y1="18.85" x2="291.6" y2="123.85" stroke="#000" stroke-width="1.3"/>
<line x1="290.95" y1="123.2" x2="461.65" y2="123.2" stroke="#000" stroke-width="1.3"/>
<line x1="288.3" y1="123.2" x2="291.6" y2="123.2" stroke="#000" stroke-width="1.3"/>
<text x="286.9" y="128.45" font-size="13.3" text-anchor="end" class="b">0</text>
<line x1="288.3" y1="100.9" x2="291.6" y2="100.9" stroke="#000" stroke-width="1.3"/>
<text x="286.9" y="106.15" font-size="13.3" text-anchor="end" class="b">100</text>
<line x1="288.3" y1="79" x2="291.6" y2="79" stroke="#000" stroke-width="1.3"/>
<text x="286.9" y="84.25" font-size="13.3" text-anchor="end" class="b">200</text>
<line x1="288.3" y1="57.4" x2="291.6" y2="57.4" stroke="#000" stroke-width="1.3"/>
<text x="286.9" y="62.65" font-size="13.3" text-anchor="end" class="b">300</text>
<line x1="288.3" y1="34.3" x2="291.6" y2="34.3" stroke="#000" stroke-width="1.3"/>
<text x="286.9" y="39.55" font-size="13.3" text-anchor="end" class="b">400</text>
<line x1="291.6" y1="123.2" x2="291.6" y2="126.2" stroke="#000" stroke-width="1.3"/>
<text x="291.6" y="139" font-size="13.3" text-anchor="middle" class="b">0</text>
<line x1="333.95" y1="123.2" x2="333.95" y2="126.2" stroke="#000" stroke-width="1.3"/>
<text x="333.95" y="139" font-size="13.3" text-anchor="middle" class="b">1</text>
<line x1="376.3" y1="123.2" x2="376.3" y2="126.2" stroke="#000" stroke-width="1.3"/>
<text x="376.3" y="139" font-size="13.3" text-anchor="middle" class="b">2</text>
<line x1="418.65" y1="123.2" x2="418.65" y2="126.2" stroke="#000" stroke-width="1.3"/>
<text x="418.65" y="139" font-size="13.3" text-anchor="middle" class="b">3</text>
<line x1="461" y1="123.2" x2="461" y2="126.2" stroke="#000" stroke-width="1.3"/>
<text x="461" y="139" font-size="13.3" text-anchor="middle" class="b">4</text>
<text x="258.8" y="73.8" font-size="13.65" text-anchor="middle" class="b" transform="rotate(-90 258.8 73.8)">Response</text>
<text x="376" y="152" font-size="13.9" text-anchor="middle" class="b">concentration (<tspan class="mu">μ</tspan>M)</text>
<text x="302.7" y="28.6" font-size="13" text-anchor="start" class="b">ii</text>
<line x1="300.37" y1="24.2" x2="300.37" y2="122.4" stroke="#4a4a4a" stroke-width="1.35" stroke-dasharray="1.3 2.7"/>
<path d="M291.6 109.91 L291.6 109.87 L291.62 109.76 L291.64 109.58 L291.67 109.33 L291.71 109 L291.75 108.61 L291.81 108.15 L291.87 107.62 L291.94 107.03 L292.02 106.39 L292.11 105.68 L292.21 104.92 L292.32 104.11 L292.43 103.25 L292.55 102.34 L292.68 101.39 L292.82 100.41 L292.97 99.39 L293.13 98.33 L293.29 97.25 L293.47 96.15 L293.65 95.02 L293.84 93.87 L294.04 92.71 L294.25 91.54 L294.46 90.36 L294.69 89.16 L294.92 87.97 L295.16 86.77 L295.41 85.57 L295.67 84.37 L295.94 83.18 L296.21 81.99 L296.5 80.81 L296.79 79.64 L297.09 78.48 L297.4 77.33 L297.72 76.19 L298.04 75.07 L298.38 73.96 L298.72 72.86 L299.07 71.78 L299.43 70.72 L299.8 69.67 L300.18 68.64 L300.56 67.63 L300.96 66.64 L301.36 65.66 L301.77 64.7 L302.19 63.76 L302.62 62.84 L303.05 61.94 L303.5 61.06 L303.95 60.19 L304.41 59.34 L304.88 58.51 L305.36 57.7 L305.85 56.9 L306.34 56.13 L306.85 55.36 L307.36 54.62 L307.88 53.89 L308.41 53.18 L308.95 52.49 L309.49 51.81 L310.05 51.15 L310.61 50.5 L311.18 49.86 L311.76 49.24 L312.35 48.64 L312.95 48.05 L313.55 47.47 L314.17 46.91 L314.79 46.36 L315.42 45.82 L316.06 45.29 L316.71 44.78 L317.37 44.28 L318.03 43.79 L318.7 43.31 L319.39 42.84 L320.08 42.39 L320.77 41.94 L321.48 41.5 L322.2 41.08 L322.92 40.66 L323.65 40.25 L324.4 39.86 L325.15 39.47 L325.9 39.09 L326.67 38.72 L327.45 38.35 L328.23 38 L329.02 37.65 L329.82 37.31 L330.63 36.98 L331.45 36.66 L332.27 36.34 L333.11 36.03 L333.95 35.72 L334.8 35.43 L335.66 35.14 L336.53 34.85 L337.41 34.57 L338.29 34.3 L339.18 34.03 L340.09 33.77 L341 33.52 L341.92 33.27 L342.84 33.02 L343.78 32.78 L344.72 32.55 L345.68 32.32 L346.64 32.09 L347.61 31.87 L348.59 31.65 L349.57 31.44 L350.57 31.23 L351.57 31.03 L352.58 30.83 L353.6 30.63 L354.63 30.44 L355.67 30.25 L356.72 30.07 L357.77 29.89 L358.83 29.71 L359.91 29.54 L360.99 29.37 L362.07 29.2 L363.17 29.04 L364.28 28.87 L365.39 28.72 L366.51 28.56 L367.64 28.41 L368.78 28.26 L369.93 28.11 L371.09 27.97 L372.25 27.83 L373.42 27.69 L374.61 27.55 L375.8 27.42 L376.99 27.29 L378.2 27.16 L379.42 27.03 L380.64 26.91 L381.87 26.79 L383.11 26.66 L384.36 26.55 L385.62 26.43 L386.89 26.32 L388.16 26.2 L389.45 26.09 L390.74 25.99 L392.04 25.88 L393.35 25.78 L394.66 25.67 L395.99 25.57 L397.32 25.47 L398.67 25.37 L400.02 25.28 L401.38 25.18 L402.74 25.09 L404.12 25 L405.5 24.91 L406.9 24.82 L408.3 24.73 L409.71 24.65 L411.13 24.56 L412.56 24.48 L413.99 24.4 L415.44 24.32 L416.89 24.24 L418.35 24.16 L419.82 24.08 L421.3 24 L422.78 23.93 L424.28 23.86 L425.78 23.78 L427.29 23.71 L428.81 23.64 L430.34 23.57 L431.88 23.51 L433.43 23.44 L434.98 23.37 L436.54 23.31 L438.11 23.24 L439.69 23.18 L441.28 23.12 L442.88 23.06 L444.48 23 L446.1 22.94 L447.72 22.88 L449.35 22.82 L450.99 22.76 L452.64 22.71 L454.29 22.65 L455.96 22.59 L457.63 22.54 L459.31 22.49 L461 22.43" fill="none" stroke="#000" stroke-width="1.2" stroke-linejoin="round" stroke-linecap="round"/>
<circle cx="291.6" cy="109.91" r="1.7" fill="#000"/>
<circle cx="295.37" cy="79.79" r="1.7" fill="#000"/>
<circle cx="333.74" cy="39.03" r="1.7" fill="#000"/>
<circle cx="376.3" cy="28.62" r="1.7" fill="#000"/>
<path d="M459.3 18.6 A1.7 1.7 0 0 0 462.7 18.6 Z" fill="#000"/>
<line x1="291.6" y1="168.15" x2="291.6" y2="273.95" stroke="#000" stroke-width="1.3"/>
<line x1="290.95" y1="273.3" x2="461.65" y2="273.3" stroke="#000" stroke-width="1.3"/>
<line x1="288.3" y1="273.3" x2="291.6" y2="273.3" stroke="#000" stroke-width="1.3"/>
<text x="286.9" y="278.65" font-size="13.3" text-anchor="end" class="b">0</text>
<line x1="288.3" y1="244.2" x2="291.6" y2="244.2" stroke="#000" stroke-width="1.3"/>
<text x="286.9" y="249.55" font-size="13.3" text-anchor="end" class="b">200</text>
<line x1="288.3" y1="213.4" x2="291.6" y2="213.4" stroke="#000" stroke-width="1.3"/>
<text x="286.9" y="218.75" font-size="13.3" text-anchor="end" class="b">400</text>
<line x1="288.3" y1="183.7" x2="291.6" y2="183.7" stroke="#000" stroke-width="1.3"/>
<text x="286.9" y="189.05" font-size="13.3" text-anchor="end" class="b">600</text>
<line x1="291.6" y1="273.3" x2="291.6" y2="276.3" stroke="#000" stroke-width="1.3"/>
<text x="291.6" y="290" font-size="13.3" text-anchor="middle" class="b">0</text>
<line x1="333.95" y1="273.3" x2="333.95" y2="276.3" stroke="#000" stroke-width="1.3"/>
<text x="333.95" y="290" font-size="13.3" text-anchor="middle" class="b">1</text>
<line x1="376.3" y1="273.3" x2="376.3" y2="276.3" stroke="#000" stroke-width="1.3"/>
<text x="376.3" y="290" font-size="13.3" text-anchor="middle" class="b">2</text>
<line x1="418.65" y1="273.3" x2="418.65" y2="276.3" stroke="#000" stroke-width="1.3"/>
<text x="418.65" y="290" font-size="13.3" text-anchor="middle" class="b">3</text>
<line x1="461" y1="273.3" x2="461" y2="276.3" stroke="#000" stroke-width="1.3"/>
<text x="461" y="290" font-size="13.3" text-anchor="middle" class="b">4</text>
<text x="258.8" y="223.2" font-size="13.65" text-anchor="middle" class="b" transform="rotate(-90 258.8 223.2)">Response</text>
<text x="376" y="303" font-size="13.9" text-anchor="middle" class="b">concentration (<tspan class="mu">μ</tspan>M)</text>
<text x="302.7" y="181.4" font-size="13" text-anchor="start" class="b">iv</text>
<line x1="304.14" y1="172.5" x2="304.14" y2="267.5" stroke="#4a4a4a" stroke-width="1.35" stroke-dasharray="1.3 2.7"/>
<path d="M291.6 263.3 L291.6 263.27 L291.62 263.16 L291.64 262.99 L291.67 262.75 L291.71 262.44 L291.75 262.07 L291.81 261.63 L291.87 261.13 L291.94 260.57 L292.02 259.96 L292.11 259.28 L292.21 258.56 L292.32 257.78 L292.43 256.96 L292.55 256.09 L292.68 255.19 L292.82 254.24 L292.97 253.26 L293.13 252.25 L293.29 251.21 L293.47 250.14 L293.65 249.05 L293.84 247.94 L294.04 246.82 L294.25 245.68 L294.46 244.52 L294.69 243.36 L294.92 242.2 L295.16 241.02 L295.41 239.85 L295.67 238.67 L295.94 237.5 L296.21 236.33 L296.5 235.17 L296.79 234.01 L297.09 232.86 L297.4 231.72 L297.72 230.59 L298.04 229.47 L298.38 228.36 L298.72 227.27 L299.07 226.19 L299.43 225.13 L299.8 224.08 L300.18 223.05 L300.56 222.03 L300.96 221.03 L301.36 220.04 L301.77 219.08 L302.19 218.12 L302.62 217.19 L303.05 216.28 L303.5 215.38 L303.95 214.5 L304.41 213.63 L304.88 212.79 L305.36 211.96 L305.85 211.14 L306.34 210.35 L306.85 209.57 L307.36 208.81 L307.88 208.06 L308.41 207.33 L308.95 206.62 L309.49 205.92 L310.05 205.23 L310.61 204.56 L311.18 203.91 L311.76 203.27 L312.35 202.64 L312.95 202.03 L313.55 201.43 L314.17 200.85 L314.79 200.28 L315.42 199.72 L316.06 199.17 L316.71 198.64 L317.37 198.12 L318.03 197.61 L318.7 197.11 L319.39 196.62 L320.08 196.14 L320.77 195.67 L321.48 195.22 L322.2 194.77 L322.92 194.34 L323.65 193.91 L324.4 193.49 L325.15 193.09 L325.9 192.69 L326.67 192.3 L327.45 191.91 L328.23 191.54 L329.02 191.18 L329.82 190.82 L330.63 190.47 L331.45 190.13 L332.27 189.79 L333.11 189.47 L333.95 189.14 L334.8 188.83 L335.66 188.52 L336.53 188.22 L337.41 187.93 L338.29 187.64 L339.18 187.36 L340.09 187.08 L341 186.81 L341.92 186.55 L342.84 186.29 L343.78 186.03 L344.72 185.78 L345.68 185.54 L346.64 185.3 L347.61 185.06 L348.59 184.84 L349.57 184.61 L350.57 184.39 L351.57 184.17 L352.58 183.96 L353.6 183.75 L354.63 183.55 L355.67 183.35 L356.72 183.15 L357.77 182.96 L358.83 182.77 L359.91 182.59 L360.99 182.4 L362.07 182.23 L363.17 182.05 L364.28 181.88 L365.39 181.71 L366.51 181.55 L367.64 181.38 L368.78 181.22 L369.93 181.07 L371.09 180.91 L372.25 180.76 L373.42 180.61 L374.61 180.47 L375.8 180.33 L376.99 180.19 L378.2 180.05 L379.42 179.91 L380.64 179.78 L381.87 179.65 L383.11 179.52 L384.36 179.39 L385.62 179.27 L386.89 179.15 L388.16 179.03 L389.45 178.91 L390.74 178.79 L392.04 178.68 L393.35 178.57 L394.66 178.46 L395.99 178.35 L397.32 178.24 L398.67 178.14 L400.02 178.03 L401.38 177.93 L402.74 177.83 L404.12 177.73 L405.5 177.64 L406.9 177.54 L408.3 177.45 L409.71 177.36 L411.13 177.27 L412.56 177.18 L413.99 177.09 L415.44 177 L416.89 176.92 L418.35 176.83 L419.82 176.75 L421.3 176.67 L422.78 176.59 L424.28 176.51 L425.78 176.43 L427.29 176.36 L428.81 176.28 L430.34 176.21 L431.88 176.13 L433.43 176.06 L434.98 175.99 L436.54 175.92 L438.11 175.85 L439.69 175.78 L441.28 175.71 L442.88 175.65 L444.48 175.58 L446.1 175.52 L447.72 175.46 L449.35 175.39 L450.99 175.33 L452.64 175.27 L454.29 175.21 L455.96 175.15 L457.63 175.09 L459.31 175.04 L461 174.98" fill="none" stroke="#000" stroke-width="1.2" stroke-linejoin="round" stroke-linecap="round"/>
<circle cx="376.3" cy="180.77" r="1.7" fill="#000"/>
<circle cx="461" cy="171.96" r="1.7" fill="#000"/>
<line x1="291.2" y1="343.15" x2="291.2" y2="445.15" stroke="#000" stroke-width="1.3"/>
<line x1="290.55" y1="444.5" x2="459.95" y2="444.5" stroke="#000" stroke-width="1.3"/>
<line x1="287.9" y1="444.5" x2="291.2" y2="444.5" stroke="#000" stroke-width="1.3"/>
<text x="284" y="449.95" font-size="13.3" text-anchor="end" class="b">0</text>
<line x1="287.9" y1="411.2" x2="291.2" y2="411.2" stroke="#000" stroke-width="1.3"/>
<text x="284" y="416.65" font-size="13.3" text-anchor="end" class="b">20</text>
<line x1="287.9" y1="377.6" x2="291.2" y2="377.6" stroke="#000" stroke-width="1.3"/>
<text x="284" y="383.05" font-size="13.3" text-anchor="end" class="b">40</text>
<line x1="287.9" y1="344.2" x2="291.2" y2="344.2" stroke="#000" stroke-width="1.3"/>
<text x="284" y="349.65" font-size="13.3" text-anchor="end" class="b">60</text>
<line x1="291.2" y1="444.5" x2="291.2" y2="447.5" stroke="#000" stroke-width="1.3"/>
<text x="291.2" y="461" font-size="13.3" text-anchor="middle" class="b">0</text>
<line x1="333.25" y1="444.5" x2="333.25" y2="447.5" stroke="#000" stroke-width="1.3"/>
<text x="333.25" y="461" font-size="13.3" text-anchor="middle" class="b">1</text>
<line x1="375.3" y1="444.5" x2="375.3" y2="447.5" stroke="#000" stroke-width="1.3"/>
<text x="375.3" y="461" font-size="13.3" text-anchor="middle" class="b">2</text>
<line x1="417.35" y1="444.5" x2="417.35" y2="447.5" stroke="#000" stroke-width="1.3"/>
<text x="417.35" y="461" font-size="13.3" text-anchor="middle" class="b">3</text>
<line x1="459.4" y1="444.5" x2="459.4" y2="447.5" stroke="#000" stroke-width="1.3"/>
<text x="459.4" y="461" font-size="13.3" text-anchor="middle" class="b">4</text>
<text x="258.8" y="392.45" font-size="13.65" text-anchor="middle" class="b" transform="rotate(-90 258.8 392.45)">Response</text>
<text x="376" y="477.2" font-size="13.9" text-anchor="middle" class="b">concentration (<tspan class="mu">μ</tspan>M)</text>
<text x="302.7" y="350.6" font-size="13" text-anchor="start" class="b">ii</text>
<line x1="341.66" y1="346.3" x2="341.66" y2="439.6" stroke="#4a4a4a" stroke-width="1.35" stroke-dasharray="1.3 2.7"/>
<path d="M291.2 439.49 L291.2 439.48 L291.22 439.44 L291.24 439.39 L291.27 439.32 L291.31 439.23 L291.35 439.12 L291.41 438.99 L291.47 438.83 L291.54 438.66 L291.62 438.47 L291.71 438.26 L291.81 438.03 L291.91 437.78 L292.02 437.51 L292.15 437.22 L292.28 436.92 L292.42 436.6 L292.56 436.26 L292.72 435.9 L292.88 435.52 L293.05 435.13 L293.24 434.72 L293.42 434.3 L293.62 433.86 L293.83 433.4 L294.04 432.93 L294.27 432.45 L294.5 431.95 L294.74 431.44 L294.98 430.91 L295.24 430.38 L295.51 429.83 L295.78 429.26 L296.06 428.69 L296.35 428.11 L296.65 427.51 L296.96 426.9 L297.27 426.29 L297.6 425.67 L297.93 425.03 L298.27 424.39 L298.62 423.74 L298.98 423.08 L299.34 422.42 L299.72 421.75 L300.1 421.07 L300.49 420.39 L300.89 419.7 L301.3 419 L301.71 418.3 L302.14 417.6 L302.57 416.89 L303.01 416.18 L303.46 415.47 L303.92 414.75 L304.39 414.03 L304.86 413.31 L305.35 412.59 L305.84 411.86 L306.34 411.13 L306.85 410.41 L307.36 409.68 L307.89 408.95 L308.42 408.22 L308.97 407.49 L309.52 406.77 L310.08 406.04 L310.64 405.31 L311.22 404.59 L311.8 403.86 L312.4 403.14 L313 402.42 L313.61 401.71 L314.23 400.99 L314.85 400.28 L315.49 399.57 L316.13 398.86 L316.78 398.15 L317.44 397.45 L318.11 396.75 L318.79 396.06 L319.47 395.37 L320.17 394.68 L320.87 394 L321.58 393.31 L322.3 392.64 L323.03 391.97 L323.76 391.3 L324.51 390.64 L325.26 389.98 L326.02 389.32 L326.79 388.67 L327.57 388.03 L328.36 387.39 L329.15 386.75 L329.95 386.12 L330.76 385.49 L331.58 384.87 L332.41 384.25 L333.25 383.64 L334.1 383.04 L334.95 382.43 L335.81 381.84 L336.68 381.25 L337.56 380.66 L338.45 380.08 L339.34 379.5 L340.25 378.93 L341.16 378.36 L342.08 377.8 L343.01 377.25 L343.95 376.7 L344.89 376.15 L345.85 375.61 L346.81 375.07 L347.78 374.54 L348.76 374.02 L349.75 373.5 L350.75 372.98 L351.75 372.47 L352.77 371.97 L353.79 371.47 L354.82 370.97 L355.86 370.48 L356.9 370 L357.96 369.52 L359.02 369.04 L360.09 368.57 L361.18 368.1 L362.26 367.64 L363.36 367.19 L364.47 366.73 L365.58 366.29 L366.7 365.84 L367.84 365.41 L368.98 364.97 L370.12 364.54 L371.28 364.12 L372.44 363.7 L373.62 363.28 L374.8 362.87 L375.99 362.47 L377.19 362.06 L378.39 361.67 L379.61 361.27 L380.83 360.88 L382.07 360.5 L383.31 360.11 L384.56 359.74 L385.81 359.36 L387.08 358.99 L388.35 358.63 L389.63 358.27 L390.93 357.91 L392.23 357.55 L393.53 357.2 L394.85 356.86 L396.17 356.51 L397.51 356.17 L398.85 355.84 L400.2 355.51 L401.56 355.18 L402.92 354.85 L404.3 354.53 L405.68 354.22 L407.07 353.9 L408.47 353.59 L409.88 353.28 L411.3 352.98 L412.72 352.68 L414.16 352.38 L415.6 352.08 L417.05 351.79 L418.51 351.5 L419.98 351.22 L421.45 350.93 L422.94 350.66 L424.43 350.38 L425.93 350.11 L427.44 349.83 L428.96 349.57 L430.49 349.3 L432.02 349.04 L433.56 348.78 L435.12 348.52 L436.68 348.27 L438.24 348.02 L439.82 347.77 L441.41 347.52 L443 347.28 L444.6 347.04 L446.21 346.8 L447.83 346.57 L449.46 346.33 L451.1 346.1 L452.74 345.87 L454.39 345.65 L456.05 345.42 L457.72 345.2 L459.4 344.98" fill="none" stroke="#000" stroke-width="1.2" stroke-linejoin="round" stroke-linecap="round"/>
<circle cx="291.2" cy="439.49" r="1.7" fill="#000"/>
<circle cx="295.4" cy="428.29" r="1.7" fill="#000"/>
<circle cx="333.25" cy="384.66" r="1.7" fill="#000"/>
<circle cx="375.3" cy="364.27" r="1.7" fill="#000"/>
<circle cx="459.4" cy="344.88" r="1.7" fill="#000"/>
<line x1="291.4" y1="493.15" x2="291.4" y2="595.85" stroke="#000" stroke-width="1.3"/>
<line x1="290.75" y1="595.2" x2="456.95" y2="595.2" stroke="#000" stroke-width="1.3"/>
<line x1="288.1" y1="595.2" x2="291.4" y2="595.2" stroke="#000" stroke-width="1.3"/>
<text x="283.7" y="601.5" font-size="13.3" text-anchor="end" class="b">0</text>
<line x1="288.1" y1="575" x2="291.4" y2="575" stroke="#000" stroke-width="1.3"/>
<text x="283.7" y="581.3" font-size="13.3" text-anchor="end" class="b">20</text>
<line x1="288.1" y1="554.6" x2="291.4" y2="554.6" stroke="#000" stroke-width="1.3"/>
<text x="283.7" y="560.9" font-size="13.3" text-anchor="end" class="b">40</text>
<line x1="288.1" y1="534.5" x2="291.4" y2="534.5" stroke="#000" stroke-width="1.3"/>
<text x="283.7" y="540.8" font-size="13.3" text-anchor="end" class="b">60</text>
<line x1="288.1" y1="514.3" x2="291.4" y2="514.3" stroke="#000" stroke-width="1.3"/>
<text x="283.7" y="520.6" font-size="13.3" text-anchor="end" class="b">80</text>
<line x1="288.1" y1="494.2" x2="291.4" y2="494.2" stroke="#000" stroke-width="1.3"/>
<text x="283.7" y="500.5" font-size="13.3" text-anchor="end" class="b">100</text>
<line x1="291.4" y1="595.2" x2="291.4" y2="598.2" stroke="#000" stroke-width="1.3"/>
<text x="291.4" y="611.5" font-size="13.3" text-anchor="middle" class="b">0</text>
<line x1="332.6" y1="595.2" x2="332.6" y2="598.2" stroke="#000" stroke-width="1.3"/>
<text x="332.6" y="611.5" font-size="13.3" text-anchor="middle" class="b">1</text>
<line x1="373.8" y1="595.2" x2="373.8" y2="598.2" stroke="#000" stroke-width="1.3"/>
<text x="373.8" y="611.5" font-size="13.3" text-anchor="middle" class="b">2</text>
<line x1="415" y1="595.2" x2="415" y2="598.2" stroke="#000" stroke-width="1.3"/>
<text x="415" y="611.5" font-size="13.3" text-anchor="middle" class="b">3</text>
<line x1="456.2" y1="595.2" x2="456.2" y2="598.2" stroke="#000" stroke-width="1.3"/>
<text x="456.2" y="611.5" font-size="13.3" text-anchor="middle" class="b">4</text>
<text x="258.8" y="542.45" font-size="13.65" text-anchor="middle" class="b" transform="rotate(-90 258.8 542.45)">Response</text>
<text x="376" y="626.9" font-size="13.9" text-anchor="middle" class="b">concentration (<tspan class="mu">μ</tspan>M)</text>
<text x="302.7" y="502.5" font-size="13" text-anchor="start" class="b">iv</text>
<line x1="349.08" y1="498.5" x2="349.08" y2="592.5" stroke="#4a4a4a" stroke-width="1.35" stroke-dasharray="1.3 2.7"/>
<path d="M291.4 592.17 L291.4 592.16 L291.42 592.14 L291.44 592.1 L291.47 592.04 L291.5 591.97 L291.55 591.88 L291.6 591.77 L291.66 591.65 L291.73 591.51 L291.81 591.36 L291.9 591.19 L291.99 591.01 L292.1 590.81 L292.21 590.59 L292.33 590.36 L292.45 590.12 L292.59 589.86 L292.73 589.59 L292.89 589.3 L293.05 589 L293.22 588.68 L293.39 588.36 L293.58 588.01 L293.77 587.66 L293.97 587.29 L294.19 586.91 L294.4 586.52 L294.63 586.12 L294.86 585.7 L295.11 585.28 L295.36 584.84 L295.62 584.39 L295.89 583.93 L296.16 583.46 L296.45 582.99 L296.74 582.5 L297.04 582 L297.35 581.5 L297.67 580.99 L297.99 580.46 L298.33 579.94 L298.67 579.4 L299.02 578.86 L299.38 578.3 L299.74 577.75 L300.12 577.18 L300.5 576.62 L300.89 576.04 L301.29 575.46 L301.7 574.88 L302.12 574.29 L302.54 573.69 L302.97 573.1 L303.41 572.5 L303.86 571.89 L304.32 571.28 L304.79 570.67 L305.26 570.06 L305.74 569.44 L306.23 568.83 L306.73 568.21 L307.24 567.58 L307.75 566.96 L308.28 566.34 L308.81 565.71 L309.35 565.09 L309.89 564.46 L310.45 563.83 L311.02 563.21 L311.59 562.58 L312.17 561.95 L312.76 561.33 L313.36 560.7 L313.96 560.08 L314.57 559.46 L315.2 558.84 L315.83 558.22 L316.47 557.6 L317.11 556.98 L317.77 556.36 L318.43 555.75 L319.1 555.14 L319.78 554.53 L320.47 553.92 L321.17 553.32 L321.87 552.72 L322.58 552.12 L323.31 551.52 L324.03 550.93 L324.77 550.34 L325.52 549.75 L326.27 549.17 L327.03 548.59 L327.8 548.01 L328.58 547.44 L329.37 546.86 L330.17 546.3 L330.97 545.73 L331.78 545.17 L332.6 544.62 L333.43 544.06 L334.26 543.51 L335.11 542.97 L335.96 542.43 L336.82 541.89 L337.69 541.36 L338.57 540.83 L339.46 540.3 L340.35 539.78 L341.25 539.26 L342.16 538.75 L343.08 538.24 L344.01 537.73 L344.94 537.23 L345.89 536.73 L346.84 536.24 L347.8 535.75 L348.77 535.26 L349.74 534.78 L350.73 534.3 L351.72 533.83 L352.72 533.36 L353.73 532.89 L354.75 532.43 L355.77 531.97 L356.81 531.52 L357.85 531.07 L358.9 530.63 L359.96 530.19 L361.03 529.75 L362.1 529.32 L363.19 528.89 L364.28 528.46 L365.38 528.04 L366.49 527.62 L367.6 527.21 L368.73 526.8 L369.86 526.39 L371 525.99 L372.15 525.59 L373.31 525.2 L374.48 524.81 L375.65 524.42 L376.83 524.04 L378.02 523.66 L379.22 523.28 L380.43 522.91 L381.64 522.54 L382.87 522.18 L384.1 521.82 L385.34 521.46 L386.59 521.1 L387.85 520.75 L389.11 520.4 L390.38 520.06 L391.66 519.72 L392.95 519.38 L394.25 519.05 L395.56 518.72 L396.87 518.39 L398.19 518.06 L399.53 517.74 L400.86 517.43 L402.21 517.11 L403.57 516.8 L404.93 516.49 L406.3 516.18 L407.68 515.88 L409.07 515.58 L410.47 515.29 L411.87 514.99 L413.29 514.7 L414.71 514.41 L416.14 514.13 L417.57 513.85 L419.02 513.57 L420.48 513.29 L421.94 513.02 L423.41 512.74 L424.89 512.48 L426.38 512.21 L427.87 511.95 L429.37 511.69 L430.89 511.43 L432.41 511.17 L433.94 510.92 L435.47 510.67 L437.02 510.42 L438.57 510.18 L440.13 509.93 L441.7 509.69 L443.28 509.45 L444.87 509.22 L446.46 508.98 L448.06 508.75 L449.67 508.52 L451.29 508.3 L452.92 508.07 L454.56 507.85 L456.2 507.63" fill="none" stroke="#000" stroke-width="1.2" stroke-linejoin="round" stroke-linecap="round"/>
<circle cx="291.4" cy="592.68" r="1.7" fill="#000"/>
<circle cx="295.52" cy="582.07" r="1.7" fill="#000"/>
<circle cx="332.6" cy="545.71" r="1.7" fill="#000"/>
<circle cx="373.8" cy="523.79" r="1.7" fill="#000"/>
<circle cx="456.2" cy="507.53" r="1.7" fill="#000"/>
<line x1="57.9" y1="335.65" x2="57.9" y2="443.45" stroke="#000" stroke-width="1.3"/>
<line x1="57.25" y1="442.8" x2="226.25" y2="442.8" stroke="#000" stroke-width="1.3"/>
<line x1="54.6" y1="346.2" x2="57.9" y2="346.2" stroke="#000" stroke-width="1.3"/>
<text x="51.7" y="351.75" font-size="13.3" text-anchor="end" class="b">90</text>
<line x1="54.6" y1="365.2" x2="57.9" y2="365.2" stroke="#000" stroke-width="1.3"/>
<text x="51.7" y="370.75" font-size="13.3" text-anchor="end" class="b">70</text>
<line x1="54.6" y1="384.4" x2="57.9" y2="384.4" stroke="#000" stroke-width="1.3"/>
<text x="51.7" y="389.95" font-size="13.3" text-anchor="end" class="b">50</text>
<line x1="54.6" y1="403.6" x2="57.9" y2="403.6" stroke="#000" stroke-width="1.3"/>
<text x="51.7" y="409.15" font-size="13.3" text-anchor="end" class="b">30</text>
<line x1="54.6" y1="422.7" x2="57.9" y2="422.7" stroke="#000" stroke-width="1.3"/>
<text x="51.7" y="428.25" font-size="13.3" text-anchor="end" class="b">10</text>
<line x1="54.6" y1="442.8" x2="57.9" y2="442.8" stroke="#000" stroke-width="1.3"/>
<text x="51.7" y="448.35" font-size="13.3" text-anchor="end" class="b">-10</text>
<line x1="57.9" y1="442.8" x2="57.9" y2="445.8" stroke="#000" stroke-width="1.3"/>
<text x="57.9" y="459.8" font-size="13.3" text-anchor="middle" class="b">0</text>
<line x1="99.82" y1="442.8" x2="99.82" y2="445.8" stroke="#000" stroke-width="1.3"/>
<text x="99.82" y="459.8" font-size="13.3" text-anchor="middle" class="b">100</text>
<line x1="141.74" y1="442.8" x2="141.74" y2="445.8" stroke="#000" stroke-width="1.3"/>
<text x="141.74" y="459.8" font-size="13.3" text-anchor="middle" class="b">200</text>
<line x1="183.66" y1="442.8" x2="183.66" y2="445.8" stroke="#000" stroke-width="1.3"/>
<text x="183.66" y="459.8" font-size="13.3" text-anchor="middle" class="b">300</text>
<line x1="225.58" y1="442.8" x2="225.58" y2="445.8" stroke="#000" stroke-width="1.3"/>
<text x="225.58" y="459.8" font-size="13.3" text-anchor="middle" class="b">400</text>
<text x="25.6" y="388" font-size="13.65" text-anchor="middle" class="b" transform="rotate(-90 25.6 388)">Response</text>
<text x="145" y="472.5" font-size="13.5" text-anchor="middle" class="b">seconds</text>
<text x="66.9" y="350.4" font-size="13" text-anchor="start" class="b">i</text>
<text x="160.6" y="391.6" font-size="13.5" text-anchor="start" class="b">sCR1: C4b</text>
<line x1="83.76" y1="433.49" x2="83.76" y2="438.3" stroke="#000" stroke-width="1.25"/>
<path d="M57.9 433.39 L59.16 433.29 L60.42 433.57 L61.67 433.25 L62.93 433.51 L64.19 433.41 L65.45 433.24 L66.7 433.49 L67.96 433.23 L69.22 433.45 L70.48 433.25 L71.73 433.26 L72.99 433.45 L74.25 433.67 L75.51 433.28 L76.76 433.33 L78.02 433.56 L79.28 433.74 L80.54 433.53 L81.79 433.43 L83.05 433.75 L83.76 433.23 L83.76 433.69 L84.02 388.76 L84.27 381.16 L84.52 379.76 L84.77 379.51 L85.02 379.6 L85.27 379.09 L85.53 379.18 L85.78 379.07 L86.03 378.8 L86.28 378.77 L86.53 378.39 L86.78 378.27 L87.03 378.25 L87.29 378.42 L87.54 378.18 L87.79 378.02 L88.04 378.09 L88.29 377.93 L88.54 377.77 L88.8 377.97 L89.05 377.84 L89.3 377.52 L89.55 377.64 L89.8 377.55 L90.05 377.69 L90.3 377.55 L90.56 377.25 L90.81 377.58 L91.06 377.05 L91.31 377.17 L91.56 377.32 L92.82 376.79 L94.08 376.82 L95.33 376.45 L96.59 376.71 L97.85 376.69 L99.11 376.52 L100.36 376.65 L101.62 376.3 L102.88 376.48 L104.14 376.4 L105.4 376.38 L106.65 376.3 L107.91 376.5 L109.17 376.55 L110.43 376.28 L111.68 376.38 L112.94 376.04 L114.2 376.39 L115.46 376.36 L116.71 376.55 L117.97 376.46 L119.23 376.15 L120.49 376.21 L121.41 376.37 L121.41 376 L121.66 401.53 L121.91 412.08 L122.16 416.81 L122.41 419.09 L122.67 420.78 L122.92 421.29 L123.17 422.03 L123.42 422.68 L123.67 423.46 L123.92 423.49 L124.18 424.14 L124.43 424.61 L124.68 425.19 L124.93 425.52 L125.18 425.89 L125.43 425.89 L125.68 426.27 L125.94 426.53 L126.19 427.1 L126.44 427.39 L126.69 427.18 L126.94 427.43 L127.19 427.67 L127.45 427.87 L127.7 428.2 L127.95 428.44 L128.2 428.43 L128.45 428.44 L128.7 428.82 L128.95 428.93 L129.21 429.18 L130.46 429.95 L131.72 430.21 L132.98 430.42 L134.24 430.7 L135.49 430.9 L136.75 430.68 L138.01 431.24 L139.27 431.24 L140.52 431.35 L141.78 431.34 L143.04 431.14 L144.3 431.16 L145.55 431.01 L146.81 431.32 L148.07 431.01 L149.33 431.02 L150.59 431.1 L151.84 431.08 L153.1 431.18 L154.36 431.02 L155.62 431 L156.87 431.08 L158.13 431.05 L159.39 431.2 L160.65 431.01 L161.9 431.49 L163.16 431.34 L164.42 431.08 L165.68 431.14 L166.93 431.19 L168.19 431.2 L169.45 431.07 L170.71 431.48 L171.96 431.56 L173.22 431.26 L174.48 431.27 L175.74 431.05 L176.99 431.06 L178.25 431.19 L179.51 431.15 L180.77 431.46 L182.03 431.09 L183.28 431.01 L184.54 431.53 L185.8 431.3 L187.06 431.08 L188.31 431.3 L189.57 431.02 L190.83 431.3 L192.09 431.55 L193.34 431.48 L194.6 431.39 L195.86 431.15 L197.12 431.21 L198.37 431.09 L199.63 431.43 L200.89 431.3 L202.15 431.44 L203.4 431.18 L204.66 431.12 L205.92 431.45 L207.18 431.55 L208.43 431.48 L209.69 431.45 L210.95 431.46 L212.21 431.41 L213.47 431.13 L214.72 431.29 L215.98 431.2 L217.24 431.02 L218.5 431.02 L219.75 431.16 L221.01 431.15 L222.27 431.39 L223.53 431.54 L224.78 431.25 L225.58 431.52" fill="none" stroke="#000" stroke-width="2" stroke-linejoin="round" stroke-linecap="round"/>
<path d="M57.9 433.62 L59.16 433.6 L60.42 433.27 L61.67 433.19 L62.93 433.19 L64.19 433.17 L65.45 433.18 L66.7 433.41 L67.96 433.57 L69.22 433.53 L70.48 433.33 L71.73 433.43 L72.99 433.51 L74.25 433.11 L75.51 433.43 L76.76 433.57 L78.02 433.5 L79.28 433.48 L80.54 433.33 L81.79 433.16 L83.05 433.51 L83.76 433.25 L83.76 433.51 L84.02 399.61 L84.27 393.46 L84.52 392.3 L84.77 392.23 L85.02 391.87 L85.27 391.35 L85.53 391.13 L85.78 390.96 L86.03 391.21 L86.28 390.99 L86.53 390.46 L86.78 390.69 L87.03 390.63 L87.29 390.31 L87.54 390 L87.79 389.99 L88.04 389.63 L88.29 389.46 L88.54 389.88 L88.8 389.6 L89.05 389.43 L89.3 389.56 L89.55 389.19 L89.8 389.35 L90.05 389.25 L90.3 388.82 L90.56 388.77 L90.81 388.73 L91.06 388.63 L91.31 388.76 L91.56 388.51 L92.82 388.34 L94.08 387.97 L95.33 388.24 L96.59 387.8 L97.85 387.76 L99.11 387.75 L100.36 387.86 L101.62 387.54 L102.88 387.78 L104.14 387.52 L105.4 387.51 L106.65 387.49 L107.91 387.19 L109.17 387.41 L110.43 387.26 L111.68 387.15 L112.94 387.59 L114.2 387.24 L115.46 387.4 L116.71 387.54 L117.97 387.44 L119.23 387.31 L120.49 387.42 L121.41 387.44 L121.41 387.57 L121.66 407.66 L121.91 416.59 L122.16 420.26 L122.41 422.15 L122.67 423.48 L122.92 424.04 L123.17 424.61 L123.42 425.18 L123.67 425.68 L123.92 425.8 L124.18 426.26 L124.43 426.53 L124.68 426.85 L124.93 427.25 L125.18 427.4 L125.43 427.71 L125.68 427.92 L125.94 428.42 L126.19 428.5 L126.44 428.81 L126.69 429.04 L126.94 428.84 L127.19 429.18 L127.45 429.56 L127.7 429.66 L127.95 429.41 L128.2 429.54 L128.45 429.84 L128.7 429.76 L128.95 429.97 L129.21 429.98 L130.46 430.76 L131.72 431.16 L132.98 431.47 L134.24 431.24 L135.49 431.69 L136.75 431.76 L138.01 431.54 L139.27 432.01 L140.52 432.1 L141.78 431.71 L143.04 432.14 L144.3 431.85 L145.55 431.91 L146.81 432.2 L148.07 432.12 L149.33 431.75 L150.59 431.9 L151.84 431.95 L153.1 431.86 L154.36 431.78 L155.62 431.85 L156.87 432.07 L158.13 431.68 L159.39 431.98 L160.65 431.92 L161.9 431.68 L163.16 431.86 L164.42 432.02 L165.68 431.96 L166.93 431.71 L168.19 432.22 L169.45 432.11 L170.71 432.22 L171.96 431.73 L173.22 431.82 L174.48 431.69 L175.74 432.11 L176.99 431.82 L178.25 431.74 L179.51 431.91 L180.77 432.18 L182.03 432.13 L183.28 431.82 L184.54 431.76 L185.8 432.19 L187.06 431.99 L188.31 432.06 L189.57 431.72 L190.83 431.7 L192.09 432.06 L193.34 431.91 L194.6 431.71 L195.86 432.2 L197.12 432.03 L198.37 432.12 L199.63 431.72 L200.89 432.15 L202.15 431.71 L203.4 432.16 L204.66 431.93 L205.92 431.86 L207.18 431.98 L208.43 432.19 L209.69 431.82 L210.95 431.74 L212.21 431.97 L213.47 431.81 L214.72 431.73 L215.98 431.76 L217.24 431.7 L218.5 431.78 L219.75 431.85 L221.01 431.84 L222.27 432.1 L223.53 431.83 L224.78 431.95 L225.58 431.77" fill="none" stroke="#000" stroke-width="2" stroke-linejoin="round" stroke-linecap="round"/>
<path d="M57.9 432.97 L59.16 432.79 L60.42 432.92 L61.67 432.78 L62.93 433.19 L64.19 433.08 L65.45 432.88 L66.7 433.04 L67.96 433.3 L69.22 432.84 L70.48 433.23 L71.73 433.02 L72.99 433.05 L74.25 433.24 L75.51 433 L76.76 433.06 L78.02 433.16 L79.28 433.33 L80.54 432.97 L81.79 433.24 L83.05 433.17 L83.76 433.13 L83.76 433 L84.02 409.65 L84.27 405.39 L84.52 404.53 L84.77 404.13 L85.02 404.25 L85.27 403.74 L85.53 403.47 L85.78 403.22 L86.03 403.44 L86.28 403.27 L86.53 402.99 L86.78 402.6 L87.03 402.42 L87.29 402.3 L87.54 402.25 L87.79 401.95 L88.04 401.98 L88.29 401.76 L88.54 402.03 L88.8 401.93 L89.05 401.59 L89.3 401.32 L89.55 401.63 L89.8 401.17 L90.05 401.11 L90.3 400.83 L90.56 400.97 L90.81 400.95 L91.06 400.89 L91.31 400.66 L91.56 400.76 L92.82 400.21 L94.08 400.13 L95.33 399.85 L96.59 399.88 L97.85 399.55 L99.11 399.44 L100.36 399.5 L101.62 399.38 L102.88 399.51 L104.14 399.42 L105.4 399.49 L106.65 399.39 L107.91 399.37 L109.17 399.42 L110.43 399.11 L111.68 399.04 L112.94 399.37 L114.2 398.88 L115.46 399.17 L116.71 399.1 L117.97 398.73 L119.23 399.15 L120.49 399.16 L121.41 399 L121.41 399.06 L121.66 414.59 L121.91 420.77 L122.16 423.9 L122.41 425.31 L122.67 426.29 L122.92 426.8 L123.17 427.23 L123.42 427.44 L123.67 427.93 L123.92 428.1 L124.18 428.38 L124.43 428.37 L124.68 428.5 L124.93 428.78 L125.18 429.12 L125.43 429.18 L125.68 429.77 L125.94 429.8 L126.19 430 L126.44 430.16 L126.69 430.34 L126.94 430.37 L127.19 430.23 L127.45 430.79 L127.7 430.88 L127.95 430.86 L128.2 430.98 L128.45 431.14 L128.7 430.9 L128.95 431.36 L129.21 431.17 L130.46 431.41 L131.72 431.77 L132.98 432.22 L134.24 432.06 L135.49 432.47 L136.75 432.67 L138.01 432.46 L139.27 432.44 L140.52 432.52 L141.78 432.66 L143.04 432.73 L144.3 432.65 L145.55 432.68 L146.81 432.37 L148.07 432.41 L149.33 432.48 L150.59 432.75 L151.84 432.51 L153.1 432.66 L154.36 432.35 L155.62 432.38 L156.87 432.49 L158.13 432.72 L159.39 432.73 L160.65 432.72 L161.9 432.51 L163.16 432.63 L164.42 432.6 L165.68 432.6 L166.93 432.41 L168.19 432.84 L169.45 432.46 L170.71 432.89 L171.96 432.87 L173.22 432.35 L174.48 432.6 L175.74 432.8 L176.99 432.89 L178.25 432.6 L179.51 432.49 L180.77 432.46 L182.03 432.87 L183.28 432.46 L184.54 432.67 L185.8 432.42 L187.06 432.64 L188.31 432.88 L189.57 432.42 L190.83 432.8 L192.09 432.63 L193.34 432.84 L194.6 432.74 L195.86 432.47 L197.12 432.85 L198.37 432.62 L199.63 432.36 L200.89 432.35 L202.15 432.62 L203.4 432.6 L204.66 432.51 L205.92 432.42 L207.18 432.54 L208.43 432.52 L209.69 432.81 L210.95 432.34 L212.21 432.76 L213.47 432.81 L214.72 432.41 L215.98 432.86 L217.24 432.74 L218.5 432.85 L219.75 432.51 L221.01 432.55 L222.27 432.56 L223.53 432.9 L224.78 432.67 L225.58 432.55" fill="none" stroke="#000" stroke-width="2" stroke-linejoin="round" stroke-linecap="round"/>
<path d="M57.9 433.5 L59.16 433.41 L60.42 433.28 L61.67 433.31 L62.93 433.72 L64.19 433.42 L65.45 433.78 L66.7 433.4 L67.96 433.4 L69.22 433.54 L70.48 433.36 L71.73 433.47 L72.99 433.79 L74.25 433.75 L75.51 433.71 L76.76 433.61 L78.02 433.77 L79.28 433.78 L80.54 433.56 L81.79 433.66 L83.05 433.28 L83.76 433.67 L83.76 433.51 L84.02 428.53 L84.27 427.47 L84.52 426.97 L84.77 426.66 L85.02 427 L85.27 426.41 L85.53 426.48 L85.78 426.28 L86.03 426.14 L86.28 426.27 L86.53 426.3 L86.78 425.8 L87.03 425.92 L87.29 425.64 L87.54 425.7 L87.79 425.52 L88.04 425.32 L88.29 425.25 L88.54 425.2 L88.8 425.53 L89.05 425.24 L89.3 425.03 L89.55 425.35 L89.8 425.35 L90.05 425 L90.3 424.78 L90.56 424.76 L90.81 424.66 L91.06 424.76 L91.31 424.58 L91.56 424.63 L92.82 424.48 L94.08 424.53 L95.33 424.6 L96.59 424.44 L97.85 424.19 L99.11 424.13 L100.36 424.15 L101.62 424.02 L102.88 423.97 L104.14 423.78 L105.4 423.87 L106.65 424.23 L107.91 423.74 L109.17 423.93 L110.43 423.98 L111.68 424.1 L112.94 423.72 L114.2 423.73 L115.46 423.71 L116.71 423.78 L117.97 423.79 L119.23 424.06 L120.49 423.99 L121.41 424 L121.41 423.52 L121.66 427.94 L121.91 430.19 L122.16 431.13 L122.41 431.29 L122.67 431.58 L122.92 431.41 L123.17 431.74 L123.42 432.14 L123.67 432.17 L123.92 432.27 L124.18 432.42 L124.43 432.08 L124.68 432.07 L124.93 432.16 L125.18 432.43 L125.43 432.58 L125.68 432.77 L125.94 432.7 L126.19 432.71 L126.44 432.82 L126.69 432.69 L126.94 432.78 L127.19 432.53 L127.45 432.98 L127.7 432.71 L127.95 433.12 L128.2 433 L128.45 432.83 L128.7 432.76 L128.95 432.86 L129.21 433.09 L130.46 433.23 L131.72 432.97 L132.98 433 L134.24 433.29 L135.49 433.36 L136.75 433.27 L138.01 433.19 L139.27 433.41 L140.52 433.09 L141.78 433.26 L143.04 433.36 L144.3 433.64 L145.55 433.47 L146.81 433.6 L148.07 433.37 L149.33 433.24 L150.59 433.25 L151.84 433.65 L153.1 433.51 L154.36 433.28 L155.62 433.12 L156.87 433.39 L158.13 433.49 L159.39 433.35 L160.65 433.26 L161.9 433.49 L163.16 433.63 L164.42 433.24 L165.68 433.13 L166.93 433.3 L168.19 433.35 L169.45 433.49 L170.71 433.22 L171.96 433.56 L173.22 433.53 L174.48 433.39 L175.74 433.23 L176.99 433.66 L178.25 433.29 L179.51 433.57 L180.77 433.24 L182.03 433.24 L183.28 433.54 L184.54 433.28 L185.8 433.65 L187.06 433.39 L188.31 433.22 L189.57 433.24 L190.83 433.35 L192.09 433.48 L193.34 433.64 L194.6 433.19 L195.86 433.33 L197.12 433.23 L198.37 433.66 L199.63 433.19 L200.89 433.14 L202.15 433.15 L203.4 433.33 L204.66 433.61 L205.92 433.61 L207.18 433.52 L208.43 433.67 L209.69 433.63 L210.95 433.3 L212.21 433.22 L213.47 433.64 L214.72 433.53 L215.98 433.13 L217.24 433.48 L218.5 433.32 L219.75 433.32 L221.01 433.3 L222.27 433.21 L223.53 433.11 L224.78 433.27 L225.58 433.31" fill="none" stroke="#000" stroke-width="1.9" stroke-linejoin="round" stroke-linecap="round"/>
<path d="M57.9 433.17 L59.16 432.7 L60.42 433.17 L61.67 432.75 L62.93 432.83 L64.19 433.09 L65.45 433.09 L66.7 432.87 L67.96 432.66 L69.22 432.9 L70.48 432.84 L71.73 433.15 L72.99 432.74 L74.25 432.84 L75.51 433.13 L76.76 432.65 L78.02 432.86 L79.28 433.09 L80.54 433.06 L81.79 432.65 L83.05 432.65 L83.76 432.67 L83.76 433.15 L84.02 432.06 L84.27 432.19 L84.52 432.22 L84.77 431.87 L85.02 431.8 L85.27 432.16 L85.53 431.94 L85.78 431.71 L86.03 431.93 L86.28 431.68 L86.53 431.63 L86.78 431.45 L87.03 431.84 L87.29 431.9 L87.54 431.72 L87.79 431.87 L88.04 431.33 L88.29 431.42 L88.54 431.53 L88.8 431.78 L89.05 431.75 L89.3 431.41 L89.55 431.31 L89.8 431.39 L90.05 431.4 L90.3 431.62 L90.56 431.19 L90.81 431.51 L91.06 431.45 L91.31 431.48 L91.56 431.43 L92.82 431.25 L94.08 431.01 L95.33 430.92 L96.59 430.87 L97.85 431.04 L99.11 430.59 L100.36 430.6 L101.62 430.86 L102.88 430.53 L104.14 430.39 L105.4 430.34 L106.65 430.59 L107.91 430.43 L109.17 430.77 L110.43 430.69 L111.68 430.72 L112.94 430.3 L114.2 430.17 L115.46 430.16 L116.71 430.37 L117.97 430.47 L119.23 430.31 L120.49 430.18 L121.41 430.27 L121.41 430.39 L121.66 432.14 L121.91 432.91 L122.16 433.29 L122.41 433.34 L122.67 433.13 L122.92 433.59 L123.17 433.33 L123.42 433.52 L123.67 433.45 L123.92 433.68 L124.18 433.41 L124.43 433.47 L124.68 433.49 L124.93 433.47 L125.18 433.9 L125.43 433.75 L125.68 433.63 L125.94 433.69 L126.19 434.04 L126.44 433.79 L126.69 433.65 L126.94 433.99 L127.19 433.91 L127.45 434.12 L127.7 433.63 L127.95 433.85 L128.2 434.06 L128.45 434.08 L128.7 434.13 L128.95 433.65 L129.21 433.8 L130.46 433.74 L131.72 433.81 L132.98 434.27 L134.24 434.07 L135.49 434.27 L136.75 433.97 L138.01 434.25 L139.27 434.02 L140.52 433.92 L141.78 434.21 L143.04 434.31 L144.3 433.84 L145.55 434.11 L146.81 434.13 L148.07 433.9 L149.33 433.99 L150.59 433.86 L151.84 433.9 L153.1 433.93 L154.36 434.12 L155.62 434.15 L156.87 433.9 L158.13 433.79 L159.39 433.97 L160.65 434.16 L161.9 433.89 L163.16 433.96 L164.42 433.9 L165.68 434.23 L166.93 434.09 L168.19 433.82 L169.45 433.84 L170.71 434.01 L171.96 434.09 L173.22 434.14 L174.48 433.84 L175.74 433.88 L176.99 434.17 L178.25 434.01 L179.51 433.94 L180.77 433.96 L182.03 434.32 L183.28 433.96 L184.54 434.1 L185.8 433.98 L187.06 434.02 L188.31 434.27 L189.57 434.34 L190.83 433.99 L192.09 433.89 L193.34 434.19 L194.6 433.9 L195.86 433.79 L197.12 434.29 L198.37 434.02 L199.63 434.24 L200.89 434.01 L202.15 434.28 L203.4 434.04 L204.66 433.88 L205.92 433.79 L207.18 434.09 L208.43 434.14 L209.69 434.29 L210.95 433.83 L212.21 434.13 L213.47 433.99 L214.72 434.07 L215.98 433.87 L217.24 433.94 L218.5 434.08 L219.75 434.3 L221.01 433.84 L222.27 434.06 L223.53 434.23 L224.78 434.33 L225.58 433.89" fill="none" stroke="#000" stroke-width="1.9" stroke-linejoin="round" stroke-linecap="round"/>
<line x1="83.76" y1="336.3" x2="83.76" y2="381" stroke="#000" stroke-width="1.2"/>
<line x1="121.41" y1="375.5" x2="121.41" y2="442.8" stroke="#000" stroke-width="1.3"/>
<line x1="57.9" y1="490.65" x2="57.9" y2="595.95" stroke="#000" stroke-width="1.3"/>
<line x1="57.25" y1="595.3" x2="224.35" y2="595.3" stroke="#000" stroke-width="1.3"/>
<line x1="54.6" y1="500" x2="57.9" y2="500" stroke="#000" stroke-width="1.3"/>
<text x="51.7" y="505.25" font-size="13.3" text-anchor="end" class="b">90</text>
<line x1="54.6" y1="519.2" x2="57.9" y2="519.2" stroke="#000" stroke-width="1.3"/>
<text x="51.7" y="524.45" font-size="13.3" text-anchor="end" class="b">70</text>
<line x1="54.6" y1="538.3" x2="57.9" y2="538.3" stroke="#000" stroke-width="1.3"/>
<text x="51.7" y="543.55" font-size="13.3" text-anchor="end" class="b">50</text>
<line x1="54.6" y1="557.1" x2="57.9" y2="557.1" stroke="#000" stroke-width="1.3"/>
<text x="51.7" y="562.35" font-size="13.3" text-anchor="end" class="b">30</text>
<line x1="54.6" y1="575.9" x2="57.9" y2="575.9" stroke="#000" stroke-width="1.3"/>
<text x="51.7" y="581.15" font-size="13.3" text-anchor="end" class="b">10</text>
<line x1="54.6" y1="595.3" x2="57.9" y2="595.3" stroke="#000" stroke-width="1.3"/>
<text x="51.7" y="600.55" font-size="13.3" text-anchor="end" class="b">-10</text>
<line x1="57.9" y1="595.3" x2="57.9" y2="598.3" stroke="#000" stroke-width="1.3"/>
<text x="57.9" y="613.3" font-size="13.3" text-anchor="middle" class="b">0</text>
<line x1="99.34" y1="595.3" x2="99.34" y2="598.3" stroke="#000" stroke-width="1.3"/>
<text x="99.34" y="613.3" font-size="13.3" text-anchor="middle" class="b">100</text>
<line x1="140.78" y1="595.3" x2="140.78" y2="598.3" stroke="#000" stroke-width="1.3"/>
<text x="140.78" y="613.3" font-size="13.3" text-anchor="middle" class="b">200</text>
<line x1="182.22" y1="595.3" x2="182.22" y2="598.3" stroke="#000" stroke-width="1.3"/>
<text x="182.22" y="613.3" font-size="13.3" text-anchor="middle" class="b">300</text>
<line x1="223.66" y1="595.3" x2="223.66" y2="598.3" stroke="#000" stroke-width="1.3"/>
<text x="223.66" y="613.3" font-size="13.3" text-anchor="middle" class="b">400</text>
<text x="25.6" y="541.9" font-size="13.65" text-anchor="middle" class="b" transform="rotate(-90 25.6 541.9)">Response</text>
<text x="142.1" y="626.8" font-size="13.5" text-anchor="middle" class="b">seconds</text>
<text x="66.6" y="501.1" font-size="13" text-anchor="start" class="b">iii</text>
<text x="133.7" y="539.8" font-size="13.55" text-anchor="start" class="b">sCR1:Rh4:C4b</text>
<line x1="83.76" y1="586.01" x2="83.76" y2="592.7" stroke="#000" stroke-width="1.25"/>
<line x1="83.76" y1="586.01" x2="83.76" y2="500.5" stroke="#000" stroke-width="1.25"/>
<path d="M57.9 585.85 L59.14 586.21 L60.39 586.22 L61.63 586.01 L62.87 585.82 L64.12 586.2 L65.36 585.96 L66.6 586.19 L67.85 586.07 L69.09 586.16 L70.33 585.86 L71.58 586.14 L72.82 585.89 L74.06 585.97 L75.3 586.17 L76.55 586.16 L77.79 585.87 L79.03 585.89 L80.28 585.97 L81.52 586.02 L82.76 585.96 L83.76 585.85 L83.76 585.9 L84.01 566.4 L84.26 552.48 L84.5 542.11 L84.75 535.13 L85 529.98 L85.25 525.8 L85.5 523.27 L85.75 520.75 L86 519.25 L86.24 517.87 L86.49 516.79 L86.74 515.72 L86.99 514.98 L87.24 514.36 L87.49 513.67 L87.74 513.22 L87.99 512.62 L88.23 512.14 L88.48 511.52 L88.73 511.38 L88.98 510.94 L89.23 510.46 L89.48 510.35 L89.73 510.03 L89.97 509.58 L90.22 509.16 L90.47 509.01 L90.72 508.59 L90.97 508.34 L91.22 508.23 L91.47 507.85 L92.71 507.01 L93.95 506.26 L95.2 505.44 L96.44 505.21 L97.68 504.59 L98.93 504.58 L100.17 504.36 L101.41 504.06 L102.66 503.71 L103.9 503.79 L105.14 503.65 L106.38 503.83 L107.63 503.41 L108.87 503.69 L110.11 503.71 L111.36 503.57 L112.6 503.59 L113.84 503.29 L115.09 503.63 L116.33 503.4 L117.57 503.6 L118.82 503.57 L120.06 503.24 L120.81 503.51 L120.81 503.57 L121.05 532.82 L121.3 547.75 L121.55 555.51 L121.8 559.29 L122.05 561.91 L122.3 563.08 L122.55 564.32 L122.8 564.8 L123.04 565.62 L123.29 566.38 L123.54 566.6 L123.79 567.12 L124.04 567.7 L124.29 568.06 L124.54 568.36 L124.78 568.83 L125.03 569.21 L125.28 569.92 L125.53 570.16 L125.78 570.59 L126.03 570.6 L126.28 571.18 L126.52 571.18 L126.77 571.65 L127.02 571.97 L127.27 572.11 L127.52 572.58 L127.77 572.69 L128.02 572.93 L128.27 573.29 L128.51 573.16 L129.76 574.52 L131 575.17 L132.24 575.76 L133.49 576.54 L134.73 576.83 L135.97 577.62 L137.22 577.85 L138.46 578.13 L139.7 578.65 L140.95 578.82 L142.19 579 L143.43 579.51 L144.68 579.46 L145.92 580.03 L147.16 579.99 L148.4 580.36 L149.65 580.7 L150.89 580.71 L152.13 580.91 L153.38 580.91 L154.62 580.92 L155.86 581.07 L157.11 581.25 L158.35 581.58 L159.59 581.61 L160.84 581.75 L162.08 582.02 L163.32 581.78 L164.57 581.91 L165.81 582.19 L167.05 581.99 L168.3 582.06 L169.54 582.28 L170.78 582.24 L172.03 582.41 L173.27 582.41 L174.51 582.63 L175.76 582.68 L177 582.56 L178.24 582.79 L179.48 582.77 L180.73 582.66 L181.97 583.05 L183.21 582.79 L184.46 582.78 L185.7 582.79 L186.94 583.06 L188.19 583.19 L189.43 583.18 L190.67 583.03 L191.92 583 L193.16 582.91 L194.4 583.21 L195.65 583.19 L196.89 583.12 L198.13 583.27 L199.38 583.19 L200.62 583.43 L201.86 583.35 L203.11 583.15 L204.35 583.45 L205.59 583.09 L206.84 583.31 L208.08 583.27 L209.32 583.21 L210.56 583.14 L211.81 583.46 L213.05 583.13 L214.29 583.38 L215.54 583.56 L216.78 583.21 L218.02 583.25 L219.27 583.43 L220.51 583.39 L221.75 583.46 L223 583.54 L223.66 583.26" fill="none" stroke="#000" stroke-width="1.9" stroke-linejoin="round" stroke-linecap="round"/>
<path d="M57.9 585.79 L59.14 585.78 L60.39 585.67 L61.63 586.04 L62.87 585.99 L64.12 585.97 L65.36 585.65 L66.6 586.02 L67.85 585.98 L69.09 585.85 L70.33 585.98 L71.58 585.85 L72.82 585.75 L74.06 585.7 L75.3 585.75 L76.55 585.67 L77.79 585.8 L79.03 585.98 L80.28 585.96 L81.52 586.02 L82.76 585.96 L83.76 585.77 L83.76 585.89 L84.01 570.31 L84.26 559.45 L84.5 551.47 L84.75 545.72 L85 541.79 L85.25 538.93 L85.5 536.36 L85.75 534.96 L86 533.26 L86.24 532.33 L86.49 531.47 L86.74 530.99 L86.99 530.48 L87.24 529.87 L87.49 529.22 L87.74 529.04 L87.99 528.41 L88.23 528.01 L88.48 527.97 L88.73 527.54 L88.98 527.27 L89.23 526.97 L89.48 526.84 L89.73 526.36 L89.97 526.28 L90.22 525.99 L90.47 525.83 L90.72 525.44 L90.97 525.36 L91.22 525.09 L91.47 524.79 L92.71 523.91 L93.95 523.4 L95.2 522.58 L96.44 522.47 L97.68 521.73 L98.93 521.34 L100.17 521.08 L101.41 521.18 L102.66 520.7 L103.9 520.42 L105.14 520.19 L106.38 520.04 L107.63 520.18 L108.87 520.03 L110.11 519.93 L111.36 519.84 L112.6 519.44 L113.84 519.58 L115.09 519.39 L116.33 519.51 L117.57 519.43 L118.82 519.38 L120.06 518.95 L120.81 519.26 L120.81 519.28 L121.05 543.35 L121.3 555.01 L121.55 561.21 L121.8 564.45 L122.05 566.29 L122.3 567.81 L122.55 568.61 L122.8 569.17 L123.04 569.78 L123.29 570.17 L123.54 570.45 L123.79 570.77 L124.04 571.15 L124.29 571.81 L124.54 571.91 L124.78 572.29 L125.03 572.65 L125.28 572.77 L125.53 573.16 L125.78 573.44 L126.03 573.9 L126.28 574 L126.52 574.22 L126.77 574.73 L127.02 574.75 L127.27 575.12 L127.52 575.22 L127.77 575.16 L128.02 575.51 L128.27 575.71 L128.51 576.03 L129.76 576.63 L131 577.45 L132.24 577.94 L133.49 578.28 L134.73 578.99 L135.97 579.03 L137.22 579.69 L138.46 579.71 L139.7 579.91 L140.95 580.26 L142.19 580.74 L143.43 581.05 L144.68 580.82 L145.92 581.22 L147.16 581.4 L148.4 581.7 L149.65 581.58 L150.89 581.86 L152.13 581.93 L153.38 582.27 L154.62 582.14 L155.86 582.55 L157.11 582.37 L158.35 582.44 L159.59 582.74 L160.84 582.74 L162.08 582.65 L163.32 582.96 L164.57 582.79 L165.81 583.17 L167.05 583.2 L168.3 583.3 L169.54 583.28 L170.78 583.22 L172.03 583.29 L173.27 583.33 L174.51 583.6 L175.76 583.29 L177 583.68 L178.24 583.34 L179.48 583.45 L180.73 583.51 L181.97 583.82 L183.21 583.68 L184.46 583.65 L185.7 583.9 L186.94 583.64 L188.19 583.76 L189.43 583.81 L190.67 583.93 L191.92 583.95 L193.16 583.92 L194.4 583.81 L195.65 583.82 L196.89 583.76 L198.13 584.07 L199.38 584.01 L200.62 584.05 L201.86 583.82 L203.11 583.95 L204.35 584.1 L205.59 584.03 L206.84 583.84 L208.08 583.99 L209.32 584.19 L210.56 583.91 L211.81 583.9 L213.05 583.95 L214.29 584.14 L215.54 584.21 L216.78 583.91 L218.02 583.91 L219.27 583.96 L220.51 584 L221.75 584.09 L223 583.94 L223.66 584.01" fill="none" stroke="#000" stroke-width="1.9" stroke-linejoin="round" stroke-linecap="round"/>
<path d="M57.9 585.35 L59.14 585.7 L60.39 585.59 L61.63 585.31 L62.87 585.69 L64.12 585.31 L65.36 585.44 L66.6 585.7 L67.85 585.62 L69.09 585.59 L70.33 585.46 L71.58 585.36 L72.82 585.55 L74.06 585.32 L75.3 585.36 L76.55 585.44 L77.79 585.28 L79.03 585.44 L80.28 585.62 L81.52 585.57 L82.76 585.49 L83.76 585.55 L83.76 585.47 L84.01 574.61 L84.26 567.2 L84.5 561.69 L84.75 557.94 L85 555.19 L85.25 552.91 L85.5 551.42 L85.75 550.33 L86 549.28 L86.24 548.47 L86.49 548.11 L86.74 547.69 L86.99 547.23 L87.24 546.83 L87.49 546.58 L87.74 546.21 L87.99 545.93 L88.23 545.6 L88.48 545.31 L88.73 545.23 L88.98 544.79 L89.23 544.74 L89.48 544.71 L89.73 544.51 L89.97 544.3 L90.22 543.97 L90.47 543.9 L90.72 543.76 L90.97 543.69 L91.22 543.46 L91.47 543.45 L92.71 542.98 L93.95 542.18 L95.2 541.99 L96.44 541.71 L97.68 541.26 L98.93 541.07 L100.17 541.08 L101.41 540.49 L102.66 540.56 L103.9 540.26 L105.14 540.41 L106.38 540.37 L107.63 540.09 L108.87 539.81 L110.11 539.94 L111.36 539.85 L112.6 539.85 L113.84 539.7 L115.09 539.69 L116.33 539.72 L117.57 539.53 L118.82 539.43 L120.06 539.61 L120.81 539.26 L120.81 539.47 L121.05 556.14 L121.3 564.7 L121.55 568.72 L121.8 571.39 L122.05 572.42 L122.3 573.11 L122.55 573.77 L122.8 574.27 L123.04 574.47 L123.29 574.98 L123.54 575.28 L123.79 575.69 L124.04 575.8 L124.29 576.01 L124.54 576.24 L124.78 576.69 L125.03 577 L125.28 577.03 L125.53 577.09 L125.78 577.54 L126.03 577.54 L126.28 577.64 L126.52 577.77 L126.77 578.22 L127.02 578.39 L127.27 578.46 L127.52 578.53 L127.77 578.71 L128.02 578.69 L128.27 579.15 L128.51 579 L129.76 579.67 L131 580.21 L132.24 580.61 L133.49 580.79 L134.73 581.01 L135.97 581.39 L137.22 581.44 L138.46 581.97 L139.7 581.95 L140.95 582.35 L142.19 582.25 L143.43 582.45 L144.68 582.54 L145.92 582.75 L147.16 582.76 L148.4 582.8 L149.65 583.22 L150.89 583.13 L152.13 583.2 L153.38 583.32 L154.62 583.48 L155.86 583.53 L157.11 583.7 L158.35 583.78 L159.59 583.71 L160.84 584.02 L162.08 584.05 L163.32 583.75 L164.57 584.14 L165.81 584.22 L167.05 584.22 L168.3 583.98 L169.54 584.32 L170.78 584.27 L172.03 584.03 L173.27 584.07 L174.51 584.51 L175.76 584.41 L177 584.26 L178.24 584.22 L179.48 584.26 L180.73 584.33 L181.97 584.59 L183.21 584.42 L184.46 584.35 L185.7 584.7 L186.94 584.67 L188.19 584.41 L189.43 584.75 L190.67 584.64 L191.92 584.73 L193.16 584.69 L194.4 584.8 L195.65 584.77 L196.89 584.8 L198.13 584.53 L199.38 584.75 L200.62 584.69 L201.86 584.79 L203.11 584.67 L204.35 584.87 L205.59 584.73 L206.84 584.61 L208.08 584.6 L209.32 584.57 L210.56 584.73 L211.81 584.54 L213.05 584.73 L214.29 584.59 L215.54 584.75 L216.78 584.76 L218.02 584.78 L219.27 584.92 L220.51 584.55 L221.75 584.92 L223 584.76 L223.66 584.8" fill="none" stroke="#000" stroke-width="1.9" stroke-linejoin="round" stroke-linecap="round"/>
<path d="M57.9 586.13 L59.14 586.21 L60.39 586.01 L61.63 586.03 L62.87 586.26 L64.12 585.87 L65.36 586.12 L66.6 586.12 L67.85 585.85 L69.09 586.11 L70.33 586.14 L71.58 586.25 L72.82 585.99 L74.06 586.27 L75.3 586.07 L76.55 586.05 L77.79 586.24 L79.03 585.86 L80.28 586.16 L81.52 586.12 L82.76 585.99 L83.76 586.22 L83.76 586 L84.01 583.84 L84.26 582.29 L84.5 581.28 L84.75 580.22 L85 579.72 L85.25 579.27 L85.5 579 L85.75 578.86 L86 578.42 L86.24 578.48 L86.49 578.15 L86.74 578.07 L86.99 577.86 L87.24 577.87 L87.49 577.98 L87.74 577.75 L87.99 577.73 L88.23 577.45 L88.48 577.36 L88.73 577.28 L88.98 577.33 L89.23 577.28 L89.48 577.28 L89.73 576.89 L89.97 577.12 L90.22 577.13 L90.47 576.91 L90.72 576.63 L90.97 576.68 L91.22 576.49 L91.47 576.51 L92.71 576.55 L93.95 576.16 L95.2 575.95 L96.44 575.79 L97.68 575.65 L98.93 575.34 L100.17 575.17 L101.41 575.03 L102.66 574.92 L103.9 574.75 L105.14 574.68 L106.38 574.37 L107.63 574.47 L108.87 574.29 L110.11 574.35 L111.36 573.98 L112.6 573.95 L113.84 573.83 L115.09 574.09 L116.33 574.11 L117.57 573.94 L118.82 573.78 L120.06 573.94 L120.81 573.9 L120.81 573.8 L121.05 577.71 L121.3 579.75 L121.55 580.85 L121.8 581.37 L122.05 581.75 L122.3 582.06 L122.55 582.34 L122.8 582.08 L123.04 582.41 L123.29 582.27 L123.54 582.4 L123.79 582.79 L124.04 582.76 L124.29 582.99 L124.54 582.86 L124.78 582.74 L125.03 582.97 L125.28 583.13 L125.53 583.34 L125.78 583.42 L126.03 583.26 L126.28 583.29 L126.52 583.2 L126.77 583.49 L127.02 583.36 L127.27 583.38 L127.52 583.36 L127.77 583.4 L128.02 583.75 L128.27 583.54 L128.51 583.95 L129.76 583.75 L131 584.25 L132.24 584.06 L133.49 584.12 L134.73 584.53 L135.97 584.41 L137.22 584.7 L138.46 584.52 L139.7 584.52 L140.95 584.9 L142.19 584.92 L143.43 585.03 L144.68 585.01 L145.92 584.76 L147.16 585.04 L148.4 585.11 L149.65 585.03 L150.89 585.26 L152.13 584.99 L153.38 585.32 L154.62 585.24 L155.86 584.95 L157.11 584.97 L158.35 585.27 L159.59 585.36 L160.84 585.05 L162.08 585.17 L163.32 585.36 L164.57 585.13 L165.81 585.45 L167.05 585.29 L168.3 585.12 L169.54 585.26 L170.78 585.36 L172.03 585.31 L173.27 585.43 L174.51 585.2 L175.76 585.5 L177 585.31 L178.24 585.44 L179.48 585.44 L180.73 585.36 L181.97 585.35 L183.21 585.53 L184.46 585.6 L185.7 585.54 L186.94 585.45 L188.19 585.33 L189.43 585.23 L190.67 585.64 L191.92 585.52 L193.16 585.58 L194.4 585.36 L195.65 585.49 L196.89 585.65 L198.13 585.59 L199.38 585.49 L200.62 585.37 L201.86 585.42 L203.11 585.63 L204.35 585.4 L205.59 585.54 L206.84 585.51 L208.08 585.64 L209.32 585.6 L210.56 585.37 L211.81 585.25 L213.05 585.36 L214.29 585.44 L215.54 585.51 L216.78 585.61 L218.02 585.64 L219.27 585.27 L220.51 585.62 L221.75 585.61 L223 585.64 L223.66 585.51" fill="none" stroke="#000" stroke-width="1.8" stroke-linejoin="round" stroke-linecap="round"/>
<path d="M57.9 585.39 L59.14 585.64 L60.39 585.62 L61.63 585.57 L62.87 585.67 L64.12 585.42 L65.36 585.31 L66.6 585.51 L67.85 585.62 L69.09 585.36 L70.33 585.6 L71.58 585.68 L72.82 585.37 L74.06 585.54 L75.3 585.57 L76.55 585.47 L77.79 585.36 L79.03 585.38 L80.28 585.6 L81.52 585.62 L82.76 585.47 L83.76 585.31 L83.76 585.62 L84.01 585.34 L84.26 584.91 L84.5 584.93 L84.75 584.97 L85 584.89 L85.25 584.67 L85.5 584.61 L85.75 584.62 L86 584.42 L86.24 584.4 L86.49 584.38 L86.74 584.59 L86.99 584.42 L87.24 584.5 L87.49 584.41 L87.74 584.45 L87.99 584.28 L88.23 584.22 L88.48 584.63 L88.73 584.34 L88.98 584.21 L89.23 584.44 L89.48 584.49 L89.73 584.21 L89.97 584.39 L90.22 584.27 L90.47 584.34 L90.72 584.11 L90.97 584.1 L91.22 584.52 L91.47 584.45 L92.71 584.25 L93.95 584.24 L95.2 584.07 L96.44 584.27 L97.68 584.09 L98.93 584.29 L100.17 584.19 L101.41 584.19 L102.66 584.23 L103.9 583.9 L105.14 583.79 L106.38 583.84 L107.63 583.82 L108.87 583.77 L110.11 583.74 L111.36 583.95 L112.6 584.08 L113.84 583.89 L115.09 584.1 L116.33 584.07 L117.57 583.69 L118.82 583.92 L120.06 583.83 L120.81 583.7 L120.81 584.07 L121.05 584.36 L121.3 584.93 L121.55 585.29 L121.8 585.67 L122.05 585.72 L122.3 585.73 L122.55 585.85 L122.8 585.8 L123.04 586.21 L123.29 586.26 L123.54 585.95 L123.79 585.89 L124.04 586 L124.29 586.06 L124.54 586.31 L124.78 586.32 L125.03 586.29 L125.28 585.95 L125.53 586.27 L125.78 586.24 L126.03 586.22 L126.28 586.37 L126.52 585.96 L126.77 586 L127.02 586.27 L127.27 586.35 L127.52 586.23 L127.77 586.07 L128.02 586.2 L128.27 586.27 L128.51 585.98 L129.76 586.08 L131 586.05 L132.24 585.99 L133.49 586.15 L134.73 586.01 L135.97 586.04 L137.22 586 L138.46 586.23 L139.7 585.94 L140.95 586.25 L142.19 586.02 L143.43 585.95 L144.68 586.34 L145.92 586.03 L147.16 586.35 L148.4 586.32 L149.65 586.33 L150.89 586 L152.13 586.13 L153.38 585.98 L154.62 586.34 L155.86 586.31 L157.11 586.21 L158.35 586.14 L159.59 586.09 L160.84 586.3 L162.08 586.15 L163.32 586.21 L164.57 586 L165.81 586.03 L167.05 585.96 L168.3 586.25 L169.54 586.18 L170.78 586 L172.03 586.32 L173.27 586.05 L174.51 586.12 L175.76 586 L177 586.06 L178.24 586.31 L179.48 586.08 L180.73 586.01 L181.97 586.15 L183.21 586.08 L184.46 586.33 L185.7 585.99 L186.94 586.37 L188.19 585.96 L189.43 586.33 L190.67 586.23 L191.92 586.03 L193.16 586.15 L194.4 586.06 L195.65 586.05 L196.89 586.02 L198.13 586.1 L199.38 586.37 L200.62 586.38 L201.86 586.34 L203.11 585.98 L204.35 586.06 L205.59 586.33 L206.84 585.96 L208.08 586.26 L209.32 586.07 L210.56 586.37 L211.81 585.94 L213.05 586.29 L214.29 586.09 L215.54 586 L216.78 585.94 L218.02 586.3 L219.27 586.17 L220.51 586.02 L221.75 586.13 L223 586.34 L223.66 586.03" fill="none" stroke="#000" stroke-width="1.8" stroke-linejoin="round" stroke-linecap="round"/>
<path d="M57.9 585.81 L59.14 585.62 L60.39 585.63 L61.63 585.89 L62.87 585.87 L64.12 585.64 L65.36 585.59 L66.6 585.59 L67.85 585.82 L69.09 585.77 L70.33 585.68 L71.58 585.65 L72.82 585.82 L74.06 585.87 L75.3 585.91 L76.55 585.81 L77.79 585.64 L79.03 585.58 L80.28 585.88 L81.52 585.73 L82.76 585.87 L83.76 585.58 L83.76 585.91 L84.01 585.57 L84.26 585.73 L84.5 585.7 L84.75 585.51 L85 585.29 L85.25 585.68 L85.5 585.48 L85.75 585.66 L86 585.39 L86.24 585.35 L86.49 585.64 L86.74 585.43 L86.99 585.34 L87.24 585.43 L87.49 585.53 L87.74 585.27 L87.99 585.5 L88.23 585.47 L88.48 585.5 L88.73 585.32 L88.98 585.58 L89.23 585.63 L89.48 585.65 L89.73 585.41 L89.97 585.58 L90.22 585.44 L90.47 585.6 L90.72 585.3 L90.97 585.65 L91.22 585.69 L91.47 585.49 L92.71 585.5 L93.95 585.5 L95.2 585.51 L96.44 585.28 L97.68 585.69 L98.93 585.37 L100.17 585.35 L101.41 585.31 L102.66 585.38 L103.9 585.63 L105.14 585.28 L106.38 585.31 L107.63 585.58 L108.87 585.36 L110.11 585.28 L111.36 585.53 L112.6 585.52 L113.84 585.5 L115.09 585.58 L116.33 585.31 L117.57 585.65 L118.82 585.58 L120.06 585.29 L120.81 585.32 L120.81 585.49 L121.05 585.81 L121.3 585.95 L121.55 586.06 L121.8 586.31 L122.05 586.29 L122.3 586.56 L122.55 586.73 L122.8 586.46 L123.04 586.68 L123.29 586.77 L123.54 586.53 L123.79 586.84 L124.04 586.89 L124.29 586.66 L124.54 586.68 L124.78 586.87 L125.03 586.73 L125.28 586.68 L125.53 586.92 L125.78 586.85 L126.03 586.65 L126.28 586.61 L126.52 586.65 L126.77 586.7 L127.02 586.94 L127.27 586.86 L127.52 586.91 L127.77 586.87 L128.02 586.88 L128.27 586.53 L128.51 586.74 L129.76 586.93 L131 586.92 L132.24 586.62 L133.49 586.69 L134.73 586.79 L135.97 586.67 L137.22 586.74 L138.46 586.54 L139.7 586.7 L140.95 586.73 L142.19 586.52 L143.43 586.57 L144.68 586.93 L145.92 586.85 L147.16 586.92 L148.4 586.79 L149.65 586.86 L150.89 586.9 L152.13 586.9 L153.38 586.52 L154.62 586.79 L155.86 586.62 L157.11 586.81 L158.35 586.63 L159.59 586.75 L160.84 586.91 L162.08 586.78 L163.32 586.62 L164.57 586.74 L165.81 586.7 L167.05 586.93 L168.3 586.63 L169.54 586.64 L170.78 586.79 L172.03 586.56 L173.27 586.77 L174.51 586.93 L175.76 586.73 L177 586.63 L178.24 586.71 L179.48 586.74 L180.73 586.57 L181.97 586.56 L183.21 586.57 L184.46 586.64 L185.7 586.69 L186.94 586.63 L188.19 586.61 L189.43 586.55 L190.67 586.75 L191.92 586.88 L193.16 586.78 L194.4 586.76 L195.65 586.79 L196.89 586.6 L198.13 586.82 L199.38 586.71 L200.62 586.75 L201.86 586.78 L203.11 586.71 L204.35 586.64 L205.59 586.61 L206.84 586.6 L208.08 586.73 L209.32 586.68 L210.56 586.77 L211.81 586.51 L213.05 586.66 L214.29 586.89 L215.54 586.61 L216.78 586.75 L218.02 586.72 L219.27 586.63 L220.51 586.94 L221.75 586.64 L223 586.85 L223.66 586.58" fill="none" stroke="#000" stroke-width="1.8" stroke-linejoin="round" stroke-linecap="round"/>
<line x1="120.81" y1="503.6" x2="120.81" y2="591.3" stroke="#000" stroke-width="1.3"/>
<text x="80" y="652" font-size="13.5" text-anchor="middle" class="b">8 <tspan class="mu">μ</tspan>g/ml</text>
<text x="170.6" y="652" font-size="13.5" text-anchor="middle" class="b">16 <tspan class="mu">μ</tspan>g/ml</text>
<text x="53" y="684.4" font-size="13.5" text-anchor="start" class="b" transform="rotate(-90 53 684.4)">PBS</text>
<text x="84.3" y="684.4" font-size="13.5" text-anchor="start" class="b" transform="rotate(-90 84.3 684.4)">C3b</text>
<text x="114.8" y="684.4" font-size="13.5" text-anchor="start" class="b" transform="rotate(-90 114.8 684.4)">C4b</text>
<text x="146.8" y="684.4" font-size="13.5" text-anchor="start" class="b" transform="rotate(-90 146.8 684.4)">PBS</text>
<text x="177.4" y="684.4" font-size="13.5" text-anchor="start" class="b" transform="rotate(-90 177.4 684.4)">C3b</text>
<text x="209.8" y="684.4" font-size="13.5" text-anchor="start" class="b" transform="rotate(-90 209.8 684.4)">C4b</text>
<line x1="126.6" y1="636.5" x2="126.6" y2="688.3" stroke="#000" stroke-width="1.2"/>
<rect x="31.5" y="688.3" width="192.35" height="122.1" fill="#9d9d9d"/>
<rect x="31.5" y="818.4" width="192.35" height="74.9" fill="#989898"/>
<g clip-path="url(#cb1)">
<rect x="68" y="694" width="25" height="36" fill="#a3a3a3" filter="url(#bl3)"/>
<rect x="34" y="740" width="26" height="60" fill="#979797" filter="url(#bl3)"/>
<rect x="68" y="742" width="25" height="60" fill="#979797" filter="url(#bl3)"/>
<rect x="160" y="694" width="28" height="34" fill="#a2a2a2" filter="url(#bl3)"/>
<rect x="35.5" y="731.9" width="24.9" height="6" fill="#858585" filter="url(#bl2)"/>
<rect x="34.5" y="733.3" width="26.9" height="2.2" rx="1.2" fill="#262626" filter="url(#bl1)"/>
<rect x="68.9" y="732.3" width="23.3" height="6" fill="#858585" filter="url(#bl2)"/>
<rect x="67.9" y="733.5" width="25.3" height="2.6" rx="1.2" fill="#1e1e1e" filter="url(#bl1)"/>
<rect x="100.2" y="731.3" width="21.5" height="6" fill="#858585" filter="url(#bl2)"/>
<rect x="99.2" y="732.7" width="23.5" height="2.2" rx="1.2" fill="#222" filter="url(#bl1)"/>
<rect x="129.6" y="731.4" width="24.9" height="6" fill="#858585" filter="url(#bl2)"/>
<rect x="128.6" y="732.7" width="26.9" height="2.4" rx="1.2" fill="#1e1e1e" filter="url(#bl1)"/>
<rect x="162" y="731.7" width="24.5" height="6" fill="#858585" filter="url(#bl2)"/>
<rect x="161" y="732.85" width="26.5" height="2.7" rx="1.2" fill="#1a1a1a" filter="url(#bl1)"/>
<rect x="194.2" y="731.8" width="24.8" height="6" fill="#858585" filter="url(#bl2)"/>
<rect x="193.2" y="732.9" width="26.8" height="2.8" rx="1.2" fill="#181818" filter="url(#bl1)"/>
<rect x="70.5" y="697.8" width="22" height="2.2" fill="#909090" filter="url(#bl1)"/>
<rect x="166" y="696.5" width="18" height="2" fill="#939393" filter="url(#bl1)"/>
<circle cx="89.5" cy="692.5" r="1.1" fill="#777" filter="url(#bl1)"/>
</g>
<g clip-path="url(#cb2)">
<rect x="36" y="852.6" width="181" height="4" fill="#4a4a4a" filter="url(#bl2)"/>
<rect x="34.4" y="849.4" width="27.8" height="10.6" rx="5.3" ry="5.3" fill="#060606" filter="url(#bl2)"/>
<rect x="65.4" y="848.5" width="29.2" height="12.4" rx="6.2" ry="6.2" fill="#060606" filter="url(#bl2)"/>
<rect x="97.2" y="850.4" width="27.2" height="8.6" rx="4.3" ry="4.3" fill="#060606" filter="url(#bl2)"/>
<rect x="128.4" y="848.2" width="28.8" height="13" rx="6.5" ry="6.5" fill="#060606" filter="url(#bl2)"/>
<rect x="159.3" y="849" width="28.7" height="11.4" rx="5.7" ry="5.7" fill="#060606" filter="url(#bl2)"/>
<rect x="191.3" y="850.6" width="27.5" height="8.2" rx="4.1" ry="4.1" fill="#060606" filter="url(#bl2)"/>
</g>
<rect x="31.5" y="688.3" width="192.35" height="122.1" fill="none" stroke="#1c1c1c" stroke-width="1.15"/>
<rect x="31.5" y="818.4" width="192.35" height="74.9" fill="none" stroke="#1c1c1c" stroke-width="1.15"/>
<text x="231" y="755.8" font-size="13.5" text-anchor="start" class="b">anti-Rh4</text>
<text x="231" y="859.6" font-size="13.5" text-anchor="start" class="b">anti-175</text>
<line x1="333.6" y1="694.5" x2="333.6" y2="892.7" stroke="#000" stroke-width="1.4"/>
<line x1="332.9" y1="892" x2="508.5" y2="892" stroke="#000" stroke-width="1.4"/>
<line x1="330.4" y1="892" x2="333.6" y2="892" stroke="#000" stroke-width="1.4"/>
<text x="329.3" y="896.9" font-size="13.3" text-anchor="end" class="b">0</text>
<line x1="330.4" y1="859.2" x2="333.6" y2="859.2" stroke="#000" stroke-width="1.4"/>
<text x="329.3" y="864.1" font-size="13.3" text-anchor="end" class="b">20</text>
<line x1="330.4" y1="826.4" x2="333.6" y2="826.4" stroke="#000" stroke-width="1.4"/>
<text x="329.3" y="831.3" font-size="13.3" text-anchor="end" class="b">40</text>
<line x1="330.4" y1="793.6" x2="333.6" y2="793.6" stroke="#000" stroke-width="1.4"/>
<text x="329.3" y="798.5" font-size="13.3" text-anchor="end" class="b">60</text>
<line x1="330.4" y1="760.8" x2="333.6" y2="760.8" stroke="#000" stroke-width="1.4"/>
<text x="329.3" y="765.7" font-size="13.3" text-anchor="end" class="b">80</text>
<line x1="330.4" y1="728" x2="333.6" y2="728" stroke="#000" stroke-width="1.4"/>
<text x="329.3" y="732.9" font-size="13.3" text-anchor="end" class="b">100</text>
<line x1="330.4" y1="695.2" x2="333.6" y2="695.2" stroke="#000" stroke-width="1.4"/>
<text x="329.3" y="700.1" font-size="13.3" text-anchor="end" class="b">120</text>
<text x="302.7" y="794.9" font-size="13.5" text-anchor="middle" class="b" transform="rotate(-90 302.7 794.9)">Growth (% of control)</text>
<rect x="346.8" y="730.9" width="16.1" height="161.1" fill="#000" stroke="#000" stroke-width="1.3"/>
<line x1="379.9" y1="726.2" x2="379.9" y2="728.82" stroke="#000" stroke-width="1.3"/>
<line x1="375.1" y1="726.2" x2="384.7" y2="726.2" stroke="#000" stroke-width="1.3"/>
<rect x="371.9" y="729.42" width="16" height="162.58" fill="#fff" stroke="#000" stroke-width="1.3"/>
<line x1="405.05" y1="714.55" x2="405.05" y2="722.59" stroke="#000" stroke-width="1.3"/>
<line x1="400.25" y1="714.55" x2="409.85" y2="714.55" stroke="#000" stroke-width="1.3"/>
<rect x="397" y="723.19" width="16.1" height="168.81" fill="#a4a4a4" stroke="#000" stroke-width="1.3"/>
<line x1="447.45" y1="743.25" x2="447.45" y2="748.83" stroke="#000" stroke-width="1.3"/>
<line x1="442.65" y1="743.25" x2="452.25" y2="743.25" stroke="#000" stroke-width="1.3"/>
<rect x="439.2" y="749.43" width="16.5" height="142.57" fill="#000" stroke="#000" stroke-width="1.3"/>
<line x1="472.7" y1="743.58" x2="472.7" y2="745.22" stroke="#000" stroke-width="1.3"/>
<line x1="467.9" y1="743.58" x2="477.5" y2="743.58" stroke="#000" stroke-width="1.3"/>
<rect x="464.6" y="745.82" width="16.2" height="146.18" fill="#fff" stroke="#000" stroke-width="1.3"/>
<line x1="497.85" y1="751.37" x2="497.85" y2="752.11" stroke="#000" stroke-width="1.3"/>
<line x1="493.05" y1="751.37" x2="502.65" y2="751.37" stroke="#000" stroke-width="1.3"/>
<rect x="489.8" y="752.71" width="16.1" height="139.29" fill="#a4a4a4" stroke="#000" stroke-width="1.3"/>
<line x1="380" y1="892" x2="380" y2="896.3" stroke="#000" stroke-width="1.4"/>
<line x1="472.5" y1="892" x2="472.5" y2="896.3" stroke="#000" stroke-width="1.4"/>
<text x="384.6" y="913" font-size="13.8" text-anchor="middle" class="b">C3b</text>
<text x="471.6" y="913" font-size="13.8" text-anchor="middle" class="b">C4b</text>
<rect x="345.9" y="640.8" width="15.7" height="13.4" fill="#000" stroke="#000" stroke-width="1.2"/>
<rect x="345.9" y="669" width="15.7" height="13.4" fill="#fff" stroke="#000" stroke-width="1.2"/>
<rect x="345.9" y="696.3" width="15.7" height="13.4" fill="#a4a4a4" stroke="#000" stroke-width="1.2"/>
<text x="373.8" y="653.6" font-size="13.6" text-anchor="start" class="b">3D7 Untreated</text>
<text x="373.8" y="680.6" font-size="13.6" text-anchor="start" class="b">3D7 Neuraminidase</text>
<text x="373.8" y="708" font-size="13.6" text-anchor="start" class="b">W2mef<tspan class="dl">Δ</tspan>Rh4 Untreated</text>
</svg>
</body></html>
